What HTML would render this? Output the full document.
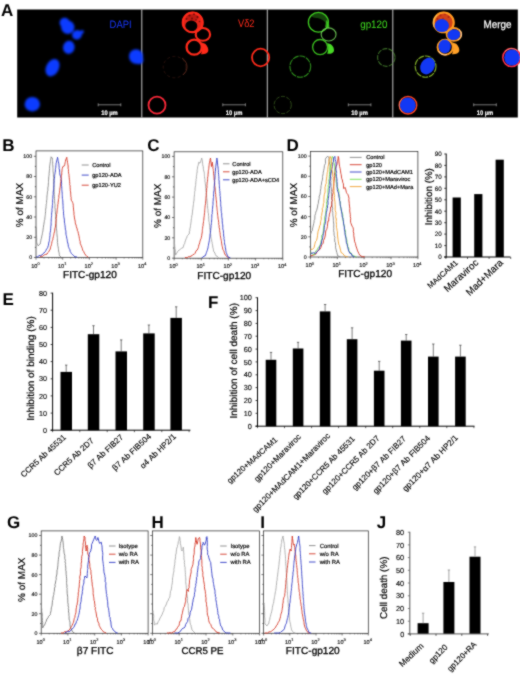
<!DOCTYPE html>
<html><head><meta charset="utf-8"><title>Figure</title>
<style>html,body{margin:0;padding:0;background:#fff;}body{width:520px;height:676px;overflow:hidden;font-family:"Liberation Sans",sans-serif;}svg{display:block;}</style>
</head><body>
<svg width="520" height="676" viewBox="0 0 520 676" text-rendering="geometricPrecision">
<defs><filter id="b1" color-interpolation-filters="sRGB" x="-20%" y="-20%" width="140%" height="140%"><feGaussianBlur stdDeviation="0.9"/></filter><filter id="b2" color-interpolation-filters="sRGB" x="-20%" y="-20%" width="140%" height="140%"><feGaussianBlur stdDeviation="0.8"/></filter><filter id="b3" color-interpolation-filters="sRGB" x="-5%" y="-5%" width="110%" height="110%"><feGaussianBlur stdDeviation="0.3"/></filter><filter id="ball" color-interpolation-filters="sRGB" x="0" y="0" width="100%" height="100%" filterUnits="userSpaceOnUse"><feConvolveMatrix order="3" kernelMatrix="1 2 1 2 12 2 1 2 1" divisor="24" edgeMode="duplicate" preserveAlpha="true"/></filter></defs>
<rect width="520" height="676" fill="#fff"/>
<g filter="url(#ball)">
<rect width="520" height="676" fill="#fff"/>
<text x="1.0" y="15.8" font-size="17" text-anchor="start" font-weight="bold" fill="#000" font-family="Liberation Sans, sans-serif">A</text>
<text x="2.2" y="151.0" font-size="17" text-anchor="start" font-weight="bold" fill="#000" font-family="Liberation Sans, sans-serif">B</text>
<text x="147.3" y="151.2" font-size="17" text-anchor="start" font-weight="bold" fill="#000" font-family="Liberation Sans, sans-serif">C</text>
<text x="286.5" y="150.5" font-size="17" text-anchor="start" font-weight="bold" fill="#000" font-family="Liberation Sans, sans-serif">D</text>
<text x="2.5" y="305.2" font-size="17" text-anchor="start" font-weight="bold" fill="#000" font-family="Liberation Sans, sans-serif">E</text>
<text x="208.0" y="308.0" font-size="17" text-anchor="start" font-weight="bold" fill="#000" font-family="Liberation Sans, sans-serif">F</text>
<text x="7.0" y="528.4" font-size="17" text-anchor="start" font-weight="bold" fill="#000" font-family="Liberation Sans, sans-serif">G</text>
<text x="151.5" y="528.4" font-size="17" text-anchor="start" font-weight="bold" fill="#000" font-family="Liberation Sans, sans-serif">H</text>
<text x="260.2" y="528.3" font-size="17" text-anchor="start" font-weight="bold" fill="#000" font-family="Liberation Sans, sans-serif">I</text>
<text x="376.8" y="528.0" font-size="17" text-anchor="start" font-weight="bold" fill="#000" font-family="Liberation Sans, sans-serif">J</text>
<rect x="17.2" y="9.5" width="500.59999999999997" height="108.0" fill="#000"/>
<rect x="141.3" y="9.5" width="1" height="108.0" fill="#c8c8c8"/>
<rect x="266.8" y="9.5" width="1" height="108.0" fill="#c8c8c8"/>
<rect x="392.3" y="9.5" width="1" height="108.0" fill="#c8c8c8"/>
<g filter="url(#b1)">
<ellipse cx="67.8" cy="27.2" rx="6.6" ry="6.8" fill="#0c3cff" opacity="1" transform="rotate(0 67.8 27.2)"/>
<ellipse cx="64.6" cy="22.8" rx="5.0" ry="5.0" fill="#0c3cff" opacity="1" transform="rotate(0 64.6 22.8)"/>
<ellipse cx="77.0" cy="34.8" rx="5.0" ry="4.6" fill="#0c3cff" opacity="1" transform="rotate(-25 77.0 34.8)"/>
<ellipse cx="81.6" cy="32.2" rx="2.4" ry="1.8" fill="#0c3cff" opacity="1" transform="rotate(-30 81.6 32.2)"/>
<ellipse cx="68.8" cy="47.3" rx="5.8" ry="6.6" fill="#0c3cff" opacity="1" transform="rotate(10 68.8 47.3)"/>
<ellipse cx="52.5" cy="67.7" rx="6.4" ry="9.2" fill="#0c3cff" opacity="1" transform="rotate(28 52.5 67.7)"/>
<ellipse cx="32.3" cy="104.2" rx="7.7" ry="7.3" fill="#0c3cff" opacity="1" transform="rotate(0 32.3 104.2)"/>
<ellipse cx="136.0" cy="56.6" rx="7.0" ry="7.4" fill="#0c3cff" opacity="1" transform="rotate(0 136.0 56.6)"/>
<ellipse cx="139.2" cy="60.0" rx="4.2" ry="4.2" fill="#0c3cff" opacity="1" transform="rotate(0 139.2 60.0)"/>
</g>
<g>
<g opacity="1">
<path fill-rule="evenodd" fill="#f0261a" opacity="0.95" d="M182,22.4 a10.7,10.6 0 1,0 21.4,0 a10.7,10.6 0 1,0 -21.4,0 Z M185.3,25.9 a6.0,5.4 0 1,0 12,0 a6.0,5.4 0 1,0 -12,0 Z"/>
<ellipse cx="192.7" cy="22.4" rx="10.0" ry="9.9" fill="none" stroke="#ff2a1a" stroke-width="2.0" opacity="1" transform="rotate(0 192.7 22.4)"/>
<ellipse cx="202.9" cy="34.4" rx="7.2" ry="6.4" fill="none" stroke="#ff2a1a" stroke-width="2.1" opacity="1" transform="rotate(0 202.9 34.4)"/>
<ellipse cx="194.2" cy="47.2" rx="7.6" ry="7.5" fill="none" stroke="#ff2a1a" stroke-width="2.3" opacity="1" transform="rotate(0 194.2 47.2)"/>
<path d="M201,42.2 L205.2,43.8 Q208.6,47 208.3,51 Q207,54.6 201,54.3 Q203.5,48 201,42.2 Z" fill="#ff2a1a"/>
</g>
<ellipse cx="192.3" cy="17.6" rx="6.2" ry="3.4" fill="#500" opacity="0.28" transform="rotate(0 192.3 17.6)"/>
<ellipse cx="189.5" cy="15.5" rx="1.1" ry="1.1" fill="#300" opacity="0.6" transform="rotate(0 189.5 15.5)"/>
<ellipse cx="194.0" cy="14.2" rx="0.9" ry="0.9" fill="#300" opacity="0.6" transform="rotate(0 194.0 14.2)"/>
<ellipse cx="197.5" cy="17.0" rx="1.0" ry="1.0" fill="#300" opacity="0.6" transform="rotate(0 197.5 17.0)"/>
<ellipse cx="186.5" cy="19.0" rx="1.0" ry="1.0" fill="#300" opacity="0.6" transform="rotate(0 186.5 19.0)"/>
<ellipse cx="192.0" cy="18.5" rx="0.9" ry="0.9" fill="#300" opacity="0.6" transform="rotate(0 192.0 18.5)"/>
<ellipse cx="196.0" cy="20.0" rx="0.8" ry="0.8" fill="#300" opacity="0.6" transform="rotate(0 196.0 20.0)"/>
<ellipse cx="199.5" cy="21.5" rx="0.8" ry="0.8" fill="#300" opacity="0.6" transform="rotate(0 199.5 21.5)"/>
<ellipse cx="174.6" cy="67.1" rx="11.4" ry="10.7" fill="none" stroke="#a04030" stroke-width="0.7" opacity="0.35" stroke-dasharray="3 2.5" transform="rotate(0 174.6 67.1)"/>
<path d="M182,58 A11.4,10.7 0 0,1 183,75" fill="none" stroke="#b05038" stroke-width="0.8" opacity="0.55"/>
<ellipse cx="157.0" cy="105.2" rx="8.5" ry="8.5" fill="none" stroke="#f82838" stroke-width="1.8" opacity="1" transform="rotate(0 157.0 105.2)"/>
<ellipse cx="260.6" cy="57.5" rx="8.6" ry="8.8" fill="none" stroke="#ff2a1a" stroke-width="1.8" opacity="1" transform="rotate(0 260.6 57.5)"/>
</g>
<g>
<g opacity="0.95">
<ellipse cx="318.4" cy="22.3" rx="10.0" ry="9.9" fill="none" stroke="#44dc24" stroke-width="1.3" opacity="1" transform="rotate(0 318.4 22.3)"/>
<path d="M310.7,16 Q317.7,10.5 325.7,15.5 Q328.7,20 328.2,26 Q323.7,19 317.7,18 Q313.7,18.5 310.7,16Z" fill="#44dc24" opacity="0.33"/>
<path d="M326.2,20 Q330.2,24 329.2,28.5 L325.2,27 Z" fill="#44dc24" opacity="0.8"/>
<ellipse cx="328.6" cy="34.4" rx="7.4" ry="6.6" fill="none" stroke="#7ae060" stroke-width="1.15" opacity="0.85" transform="rotate(0 328.6 34.4)"/>
<ellipse cx="320.1" cy="47.1" rx="7.5" ry="7.6" fill="none" stroke="#44dc24" stroke-width="1.3" opacity="0.9" transform="rotate(0 320.1 47.1)"/>
<path d="M327.2,43 L330.9,44.2 Q334.3,47 334.0,51 Q332.7,54.2 327.2,53.8 Q329.2,48 327.2,43 Z" fill="#4ce428"/>
</g>
<ellipse cx="300.3" cy="66.6" rx="10.4" ry="10.6" fill="none" stroke="#40c828" stroke-width="1.1" opacity="0.7" stroke-dasharray="6 0.9" transform="rotate(0 300.3 66.6)"/>
<ellipse cx="282.7" cy="105.0" rx="8.6" ry="8.6" fill="none" stroke="#5a9030" stroke-width="1.0" opacity="0.5" stroke-dasharray="4 1.5" transform="rotate(0 282.7 105.0)"/>
<ellipse cx="386.3" cy="57.5" rx="8.7" ry="8.9" fill="none" stroke="#60b040" stroke-width="1.1" opacity="0.6" stroke-dasharray="5 1.2" transform="rotate(0 386.3 57.5)"/>
</g>
<g>
<g opacity="1">
<path fill-rule="evenodd" fill="#e8481a" opacity="0.9" d="M433.0,22.4 a10.7,10.6 0 1,0 21.4,0 a10.7,10.6 0 1,0 -21.4,0 Z M436.3,25.9 a6.0,5.4 0 1,0 12,0 a6.0,5.4 0 1,0 -12,0 Z"/>
<ellipse cx="443.7" cy="22.4" rx="10.0" ry="9.9" fill="none" stroke="#ff9a20" stroke-width="2.1" opacity="1" transform="rotate(0 443.7 22.4)"/>
<ellipse cx="453.9" cy="34.4" rx="7.2" ry="6.4" fill="none" stroke="#ff9a20" stroke-width="1.9" opacity="1" transform="rotate(0 453.9 34.4)"/>
<ellipse cx="445.2" cy="47.2" rx="7.6" ry="7.5" fill="none" stroke="#ff9a20" stroke-width="2.0" opacity="1" transform="rotate(0 445.2 47.2)"/>
<path d="M452.0,42.2 L456.2,43.8 Q459.6,47 459.3,51 Q458.0,54.6 452.0,54.3 Q454.5,48 452.0,42.2 Z" fill="#ffa028"/>
</g>
<ellipse cx="440.5" cy="15.5" rx="1.0" ry="1.0" fill="#901010" opacity="0.6" transform="rotate(0 440.5 15.5)"/>
<ellipse cx="445.0" cy="14.2" rx="0.8" ry="0.8" fill="#901010" opacity="0.6" transform="rotate(0 445.0 14.2)"/>
<ellipse cx="448.5" cy="17.0" rx="0.9" ry="0.9" fill="#901010" opacity="0.6" transform="rotate(0 448.5 17.0)"/>
<ellipse cx="437.5" cy="19.0" rx="0.9" ry="0.9" fill="#901010" opacity="0.6" transform="rotate(0 437.5 19.0)"/>
<ellipse cx="443.0" cy="18.5" rx="0.8" ry="0.8" fill="#901010" opacity="0.6" transform="rotate(0 443.0 18.5)"/>
<path d="M434.2,27 A10,9.9 0 0,1 437.0,15" fill="none" stroke="#ffd070" stroke-width="1" opacity="0.8"/>
<path d="M459.0,29.5 A7.2,6.4 0 0,1 458.0,40" fill="none" stroke="#ffe0c0" stroke-width="1" opacity="0.8"/>
<path d="M438.5,51 A7.6,7.5 0 0,0 447.0,54.6" fill="none" stroke="#ffe0d0" stroke-width="1" opacity="0.8"/>
<ellipse cx="425.6" cy="66.6" rx="10.4" ry="10.6" fill="none" stroke="#98cc30" stroke-width="1.15" opacity="0.85" stroke-dasharray="6 0.9" transform="rotate(0 425.6 66.6)"/>
<ellipse cx="408.0" cy="105.2" rx="8.7" ry="8.7" fill="none" stroke="#ff4420" stroke-width="1.5" opacity="1" transform="rotate(0 408.0 105.2)"/>
<path d="M402.0,99 A8.6,8.6 0 0,0 402.0,111.5" fill="none" stroke="#ff9060" stroke-width="1" opacity="0.7"/>
<ellipse cx="511.6" cy="57.5" rx="8.8" ry="9.0" fill="none" stroke="#ff3048" stroke-width="1.5" opacity="1" transform="rotate(0 511.6 57.5)"/>
<path d="M505.0,51.5 A8.7,8.9 0 0,1 517.0,50.5" fill="none" stroke="#ffb080" stroke-width="0.9" opacity="0.7"/>
<ellipse cx="441.8" cy="25.6" rx="7.2" ry="6.5" fill="#1238f4" opacity="1" transform="rotate(0 441.8 25.6)"/>
<ellipse cx="453.8" cy="34.7" rx="6.5" ry="5.3" fill="#1238f4" opacity="1" transform="rotate(-15 453.8 34.7)"/>
<ellipse cx="444.7" cy="46.4" rx="6.1" ry="6.8" fill="#1238f4" opacity="1" transform="rotate(0 444.7 46.4)"/>
<ellipse cx="427.6" cy="66.0" rx="6.9" ry="8.8" fill="#1238f4" opacity="1" transform="rotate(30 427.6 66.0)"/>
<ellipse cx="407.8" cy="105.2" rx="7.9" ry="7.8" fill="#1238f4" opacity="1" transform="rotate(0 407.8 105.2)"/>
<ellipse cx="512.0" cy="57.5" rx="7.8" ry="8.0" fill="#1238f4" opacity="1" transform="rotate(0 512.0 57.5)"/>
</g>
<text x="109.6" y="27.8" font-size="10.8" text-anchor="start" font-weight="normal" fill="#1838ff" font-family="Liberation Sans, sans-serif" textLength="22" lengthAdjust="spacingAndGlyphs">DAPI</text>
<text x="238.0" y="27.3" font-size="10.8" text-anchor="start" font-weight="normal" fill="#ff2a1a" font-family="Liberation Sans, sans-serif" textLength="16.5" lengthAdjust="spacingAndGlyphs">Vδ2</text>
<text x="360.2" y="27.5" font-size="10.8" text-anchor="start" font-weight="normal" fill="#40e020" font-family="Liberation Sans, sans-serif" textLength="27.3" lengthAdjust="spacingAndGlyphs">gp120</text>
<text x="483.5" y="27.5" font-size="10.8" text-anchor="start" font-weight="normal" fill="#ffffff" font-family="Liberation Sans, sans-serif" textLength="28" lengthAdjust="spacingAndGlyphs" stroke="#fff" stroke-width="0.25">Merge</text>
<g stroke="#bbb" stroke-width="0.7" opacity="0.9"><line x1="98.2" y1="104.8" x2="120.80000000000001" y2="104.8"/><line x1="98.2" y1="103.3" x2="98.2" y2="106.3"/><line x1="120.80000000000001" y1="103.3" x2="120.80000000000001" y2="106.3"/></g>
<text x="101.2" y="115.1" font-size="6.6" text-anchor="start" font-weight="bold" fill="#fff" font-family="Liberation Sans, sans-serif" textLength="16.6" lengthAdjust="spacingAndGlyphs" stroke="#fff" stroke-width="0.2">10 µm</text>
<g stroke="#bbb" stroke-width="0.7" opacity="0.9"><line x1="222.8" y1="104.8" x2="245.4" y2="104.8"/><line x1="222.8" y1="103.3" x2="222.8" y2="106.3"/><line x1="245.4" y1="103.3" x2="245.4" y2="106.3"/></g>
<text x="225.8" y="115.1" font-size="6.6" text-anchor="start" font-weight="bold" fill="#fff" font-family="Liberation Sans, sans-serif" textLength="16.6" lengthAdjust="spacingAndGlyphs" stroke="#fff" stroke-width="0.2">10 µm</text>
<g stroke="#bbb" stroke-width="0.7" opacity="0.9"><line x1="348.3" y1="104.8" x2="370.90000000000003" y2="104.8"/><line x1="348.3" y1="103.3" x2="348.3" y2="106.3"/><line x1="370.90000000000003" y1="103.3" x2="370.90000000000003" y2="106.3"/></g>
<text x="351.3" y="115.1" font-size="6.6" text-anchor="start" font-weight="bold" fill="#fff" font-family="Liberation Sans, sans-serif" textLength="16.6" lengthAdjust="spacingAndGlyphs" stroke="#fff" stroke-width="0.2">10 µm</text>
<g stroke="#bbb" stroke-width="0.7" opacity="0.9"><line x1="473.7" y1="104.8" x2="496.3" y2="104.8"/><line x1="473.7" y1="103.3" x2="473.7" y2="106.3"/><line x1="496.3" y1="103.3" x2="496.3" y2="106.3"/></g>
<text x="476.7" y="115.1" font-size="6.6" text-anchor="start" font-weight="bold" fill="#fff" font-family="Liberation Sans, sans-serif" textLength="16.6" lengthAdjust="spacingAndGlyphs" stroke="#fff" stroke-width="0.2">10 µm</text>
<rect x="36.0" y="150.9" width="106.80000000000001" height="106.6" fill="none" stroke="#222" stroke-width="0.7"/>
<line x1="36.0" y1="257.5" x2="33.8" y2="257.5" stroke="#222" stroke-width="0.6"/>
<text x="32.2" y="259.4" font-size="5.3" text-anchor="end" font-weight="normal" fill="#111" font-family="Liberation Sans, sans-serif" stroke="#111" stroke-width="0.15">0</text>
<line x1="36.0" y1="247.4" x2="34.8" y2="247.4" stroke="#222" stroke-width="0.6"/>
<line x1="36.0" y1="237.3" x2="33.8" y2="237.3" stroke="#222" stroke-width="0.6"/>
<text x="32.2" y="239.2" font-size="5.3" text-anchor="end" font-weight="normal" fill="#111" font-family="Liberation Sans, sans-serif" stroke="#111" stroke-width="0.15">20</text>
<line x1="36.0" y1="227.1" x2="34.8" y2="227.1" stroke="#222" stroke-width="0.6"/>
<line x1="36.0" y1="217.0" x2="33.8" y2="217.0" stroke="#222" stroke-width="0.6"/>
<text x="32.2" y="218.9" font-size="5.3" text-anchor="end" font-weight="normal" fill="#111" font-family="Liberation Sans, sans-serif" stroke="#111" stroke-width="0.15">40</text>
<line x1="36.0" y1="206.9" x2="34.8" y2="206.9" stroke="#222" stroke-width="0.6"/>
<line x1="36.0" y1="196.8" x2="33.8" y2="196.8" stroke="#222" stroke-width="0.6"/>
<text x="32.2" y="198.7" font-size="5.3" text-anchor="end" font-weight="normal" fill="#111" font-family="Liberation Sans, sans-serif" stroke="#111" stroke-width="0.15">60</text>
<line x1="36.0" y1="186.7" x2="34.8" y2="186.7" stroke="#222" stroke-width="0.6"/>
<line x1="36.0" y1="176.5" x2="33.8" y2="176.5" stroke="#222" stroke-width="0.6"/>
<text x="32.2" y="178.4" font-size="5.3" text-anchor="end" font-weight="normal" fill="#111" font-family="Liberation Sans, sans-serif" stroke="#111" stroke-width="0.15">80</text>
<line x1="36.0" y1="166.4" x2="34.8" y2="166.4" stroke="#222" stroke-width="0.6"/>
<line x1="36.0" y1="156.3" x2="33.8" y2="156.3" stroke="#222" stroke-width="0.6"/>
<text x="32.2" y="158.2" font-size="5.3" text-anchor="end" font-weight="normal" fill="#111" font-family="Liberation Sans, sans-serif" stroke="#111" stroke-width="0.15">100</text>
<line x1="36.0" y1="257.5" x2="36.0" y2="259.7" stroke="#222" stroke-width="0.6"/>
<line x1="44.0" y1="257.5" x2="44.0" y2="258.7" stroke="#222" stroke-width="0.4"/>
<line x1="48.7" y1="257.5" x2="48.7" y2="258.7" stroke="#222" stroke-width="0.4"/>
<line x1="52.1" y1="257.5" x2="52.1" y2="258.7" stroke="#222" stroke-width="0.4"/>
<line x1="54.7" y1="257.5" x2="54.7" y2="258.7" stroke="#222" stroke-width="0.4"/>
<line x1="56.8" y1="257.5" x2="56.8" y2="258.7" stroke="#222" stroke-width="0.4"/>
<line x1="58.6" y1="257.5" x2="58.6" y2="258.7" stroke="#222" stroke-width="0.4"/>
<line x1="60.1" y1="257.5" x2="60.1" y2="258.7" stroke="#222" stroke-width="0.4"/>
<line x1="61.5" y1="257.5" x2="61.5" y2="258.7" stroke="#222" stroke-width="0.4"/>
<text x="35.4" y="267.7" font-size="5.6" text-anchor="middle" fill="#111" stroke="#111" stroke-width="0.15" font-family="Liberation Sans, sans-serif">10<tspan dy="-2.3" font-size="3.9">0</tspan></text>
<line x1="62.7" y1="257.5" x2="62.7" y2="259.7" stroke="#222" stroke-width="0.6"/>
<line x1="70.7" y1="257.5" x2="70.7" y2="258.7" stroke="#222" stroke-width="0.4"/>
<line x1="75.4" y1="257.5" x2="75.4" y2="258.7" stroke="#222" stroke-width="0.4"/>
<line x1="78.8" y1="257.5" x2="78.8" y2="258.7" stroke="#222" stroke-width="0.4"/>
<line x1="81.4" y1="257.5" x2="81.4" y2="258.7" stroke="#222" stroke-width="0.4"/>
<line x1="83.5" y1="257.5" x2="83.5" y2="258.7" stroke="#222" stroke-width="0.4"/>
<line x1="85.3" y1="257.5" x2="85.3" y2="258.7" stroke="#222" stroke-width="0.4"/>
<line x1="86.8" y1="257.5" x2="86.8" y2="258.7" stroke="#222" stroke-width="0.4"/>
<line x1="88.2" y1="257.5" x2="88.2" y2="258.7" stroke="#222" stroke-width="0.4"/>
<text x="62.1" y="267.7" font-size="5.6" text-anchor="middle" fill="#111" stroke="#111" stroke-width="0.15" font-family="Liberation Sans, sans-serif">10<tspan dy="-2.3" font-size="3.9">1</tspan></text>
<line x1="89.4" y1="257.5" x2="89.4" y2="259.7" stroke="#222" stroke-width="0.6"/>
<line x1="97.4" y1="257.5" x2="97.4" y2="258.7" stroke="#222" stroke-width="0.4"/>
<line x1="102.1" y1="257.5" x2="102.1" y2="258.7" stroke="#222" stroke-width="0.4"/>
<line x1="105.5" y1="257.5" x2="105.5" y2="258.7" stroke="#222" stroke-width="0.4"/>
<line x1="108.1" y1="257.5" x2="108.1" y2="258.7" stroke="#222" stroke-width="0.4"/>
<line x1="110.2" y1="257.5" x2="110.2" y2="258.7" stroke="#222" stroke-width="0.4"/>
<line x1="112.0" y1="257.5" x2="112.0" y2="258.7" stroke="#222" stroke-width="0.4"/>
<line x1="113.5" y1="257.5" x2="113.5" y2="258.7" stroke="#222" stroke-width="0.4"/>
<line x1="114.9" y1="257.5" x2="114.9" y2="258.7" stroke="#222" stroke-width="0.4"/>
<text x="88.8" y="267.7" font-size="5.6" text-anchor="middle" fill="#111" stroke="#111" stroke-width="0.15" font-family="Liberation Sans, sans-serif">10<tspan dy="-2.3" font-size="3.9">2</tspan></text>
<line x1="116.1" y1="257.5" x2="116.1" y2="259.7" stroke="#222" stroke-width="0.6"/>
<line x1="124.1" y1="257.5" x2="124.1" y2="258.7" stroke="#222" stroke-width="0.4"/>
<line x1="128.8" y1="257.5" x2="128.8" y2="258.7" stroke="#222" stroke-width="0.4"/>
<line x1="132.2" y1="257.5" x2="132.2" y2="258.7" stroke="#222" stroke-width="0.4"/>
<line x1="134.8" y1="257.5" x2="134.8" y2="258.7" stroke="#222" stroke-width="0.4"/>
<line x1="136.9" y1="257.5" x2="136.9" y2="258.7" stroke="#222" stroke-width="0.4"/>
<line x1="138.7" y1="257.5" x2="138.7" y2="258.7" stroke="#222" stroke-width="0.4"/>
<line x1="140.2" y1="257.5" x2="140.2" y2="258.7" stroke="#222" stroke-width="0.4"/>
<line x1="141.6" y1="257.5" x2="141.6" y2="258.7" stroke="#222" stroke-width="0.4"/>
<text x="115.5" y="267.7" font-size="5.6" text-anchor="middle" fill="#111" stroke="#111" stroke-width="0.15" font-family="Liberation Sans, sans-serif">10<tspan dy="-2.3" font-size="3.9">3</tspan></text>
<line x1="142.8" y1="257.5" x2="142.8" y2="259.7" stroke="#222" stroke-width="0.6"/>
<text x="142.2" y="267.7" font-size="5.6" text-anchor="middle" fill="#111" stroke="#111" stroke-width="0.15" font-family="Liberation Sans, sans-serif">10<tspan dy="-2.3" font-size="3.9">4</tspan></text>
<text x="23.0" y="205.0" font-size="10" text-anchor="middle" font-weight="normal" fill="#000" font-family="Liberation Sans, sans-serif" transform="rotate(-90 23.0 205.0)" stroke="#000" stroke-width="0.15">% of MAX</text>
<text x="89.9" y="277.8" font-size="10.1" text-anchor="middle" font-weight="normal" fill="#000" font-family="Liberation Sans, sans-serif" stroke="#000" stroke-width="0.3">FITC-gp120</text>
<line x1="81.7" y1="165.0" x2="88.7" y2="165.0" stroke="#868686" stroke-width="0.9"/>
<text x="92.2" y="167.0" font-size="5.7" text-anchor="start" font-weight="normal" fill="#000" font-family="Liberation Sans, sans-serif" stroke="#000" stroke-width="0.18">Control</text>
<line x1="81.7" y1="175.1" x2="88.7" y2="175.1" stroke="#2c38c4" stroke-width="0.9"/>
<text x="92.2" y="177.1" font-size="5.7" text-anchor="start" font-weight="normal" fill="#000" font-family="Liberation Sans, sans-serif" stroke="#000" stroke-width="0.18">gp120-ADA</text>
<line x1="81.7" y1="185.2" x2="88.7" y2="185.2" stroke="#d23424" stroke-width="0.9"/>
<text x="92.2" y="187.2" font-size="5.7" text-anchor="start" font-weight="normal" fill="#000" font-family="Liberation Sans, sans-serif" stroke="#000" stroke-width="0.18">gp120-YU2</text>
<polyline points="36.2,227.3 36.2,228.4 36.2,229.9 36.3,231.1 36.4,231.9 36.4,233.2 36.4,234.5 36.6,236.0 36.5,237.0 36.7,238.8 36.6,240.0 36.6,241.6 36.7,242.4 37.1,243.9 37.5,244.4 38.1,245.8 39.2,244.8 40.1,244.1 40.4,242.7 40.6,241.9 40.8,240.6 41.1,239.0 41.4,238.4 41.7,236.9 41.8,235.8 42.2,234.9 42.4,233.3 42.6,232.3 42.9,231.1 43.0,230.1 43.1,229.1 43.4,227.4 43.5,226.0 43.8,224.7 43.9,224.1 44.0,223.0 44.3,221.7 44.4,220.3 44.8,219.4 44.9,217.8 45.1,216.3 45.2,215.5 45.4,214.4 45.4,213.3 45.6,211.7 45.6,210.2 45.7,209.1 46.0,207.8 46.0,206.7 46.2,205.7 46.2,204.2 46.5,203.5 46.6,202.5 46.6,200.8 46.8,199.7 46.9,198.6 46.9,197.8 47.0,195.9 47.2,194.7 47.3,193.9 47.4,192.1 47.6,191.2 47.8,190.6 47.9,189.0 47.8,187.9 48.1,186.9 48.3,185.7 48.3,184.0 48.5,182.6 48.5,181.7 48.5,180.1 48.7,179.1 48.7,178.0 48.8,176.5 49.0,175.3 49.2,174.1 49.1,173.4 49.3,171.9 49.3,170.8 49.6,170.0 49.6,168.4 49.6,166.9 49.7,165.9 49.9,164.9 50.0,163.8 50.4,161.7 50.4,160.8 50.6,159.5 51.0,158.1 51.1,156.8 52.3,158.1 52.4,159.7 52.4,160.4 52.6,161.6 52.7,163.2 52.6,164.3 52.9,166.0 52.9,167.3 53.0,168.5 53.0,169.3 53.0,170.6 53.1,171.6 53.3,173.3 53.4,174.3 53.4,176.1 53.6,177.3 53.5,178.5 53.5,179.1 53.5,180.2 53.8,181.8 53.7,183.2 53.9,184.3 53.9,185.0 54.0,186.9 53.9,188.0 54.1,188.7 54.1,190.0 54.1,191.8 54.3,192.5 54.1,194.0 54.2,194.6 54.4,196.5 54.5,197.1 54.5,198.6 54.6,200.2 54.6,200.9 54.6,201.9 54.8,203.8 55.0,204.6 55.0,205.8 54.9,207.3 55.0,208.0 55.2,209.2 55.2,210.4 55.4,211.5 55.4,212.9 55.6,214.3 55.7,215.4 55.7,216.7 55.6,217.9 55.7,219.0 56.0,219.8 56.0,221.2 56.1,222.9 56.1,223.9 56.2,224.9 56.4,226.4 56.4,227.2 56.5,228.5 56.6,230.2 56.8,231.2 56.8,232.8 56.9,233.7 57.0,234.9 57.1,236.0 57.3,237.3 57.4,238.7 57.3,240.1 57.6,241.0 57.4,242.5 57.6,243.0 57.7,244.2 57.8,245.8 58.1,246.7 58.4,248.6 58.5,249.3 58.6,251.0 59.0,252.5 59.2,253.1 59.3,254.6 59.5,255.9 61.2,257.2" fill="none" stroke="#868686" stroke-width="0.9" stroke-linejoin="round" opacity="1"/>
<polyline points="36.2,256.8 37.7,256.8 39.0,255.6 40.4,255.5 41.8,255.1 42.9,253.7 43.9,253.0 45.2,251.7 45.8,250.7 46.4,249.2 47.1,248.7 47.7,247.5 48.2,245.8 48.5,245.1 48.7,243.1 49.1,241.7 49.4,240.7 49.4,239.3 49.7,238.3 49.7,237.4 50.0,235.6 50.0,234.8 50.0,233.2 50.2,232.5 50.5,230.7 50.6,230.0 50.7,228.3 50.8,227.1 50.8,226.3 51.1,225.1 51.1,223.9 51.1,222.5 51.2,221.5 51.2,219.9 51.3,218.7 51.4,217.7 51.5,216.9 51.6,215.5 51.6,214.1 51.7,212.8 51.9,212.0 52.0,210.4 51.9,209.8 52.1,208.5 52.3,207.0 52.3,205.7 52.5,204.8 52.5,203.3 52.6,202.4 52.6,200.9 52.6,199.4 52.8,198.6 52.9,196.9 52.9,195.8 53.2,194.4 53.2,193.9 53.2,192.1 53.4,190.8 53.5,189.4 53.7,188.3 53.7,187.6 53.9,185.7 53.9,184.5 54.0,183.0 54.1,182.1 54.2,180.6 54.3,179.2 54.5,178.4 54.6,176.7 54.6,175.4 54.8,174.4 55.0,173.4 55.2,172.3 55.4,171.0 55.4,169.4 55.5,168.7 55.8,167.2 55.9,165.3 56.0,164.8 56.1,163.2 56.5,162.2 56.7,160.5 57.0,159.6 57.3,158.7 57.5,157.3 57.8,158.5 58.0,159.8 58.1,160.6 58.4,161.7 58.7,163.2 58.9,164.1 59.0,165.9 59.2,167.2 59.1,168.4 59.5,170.0 59.6,171.0 59.6,172.5 59.8,173.9 60.0,175.0 60.5,176.3 61.2,178.4 61.2,179.8 61.5,181.0 61.4,182.0 61.6,183.2 61.6,184.7 61.5,185.8 61.7,186.6 61.8,188.4 61.8,189.5 61.9,190.2 62.0,191.8 62.2,193.2 62.2,194.5 62.3,195.6 62.3,196.8 62.4,198.4 62.7,199.7 62.7,200.1 62.9,202.1 62.8,203.0 63.0,204.0 63.0,205.3 63.1,206.4 63.1,208.4 63.3,209.5 63.4,210.8 63.6,211.5 63.4,213.0 63.6,213.8 63.7,215.5 63.8,216.7 64.0,217.7 64.3,219.1 64.4,220.1 64.4,222.1 64.7,223.4 64.8,224.7 65.0,225.5 65.2,227.3 65.3,228.0 65.3,229.2 65.7,230.3 65.9,231.7 65.9,232.9 66.0,234.4 66.3,235.7 66.6,236.8 66.8,238.4 67.1,239.3 67.3,240.8 67.4,241.8 67.8,243.0 68.1,244.2 68.2,244.9 68.4,246.7 68.8,247.5 69.2,248.6 69.9,249.7 70.2,251.5 70.8,252.4 71.3,253.4 72.4,254.6 73.5,255.3 74.7,256.8 76.1,256.8 77.2,257.2" fill="none" stroke="#2c38c4" stroke-width="0.9" stroke-linejoin="round" opacity="1"/>
<polyline points="40.1,256.8 41.2,256.3 42.5,256.3 43.4,255.5 44.5,254.8 45.6,254.5 46.9,254.2 47.5,253.0 48.3,252.3 48.9,251.4 49.6,250.1 50.2,249.2 50.5,247.8 50.8,246.3 51.1,245.9 51.5,244.3 51.7,243.4 52.0,241.6 52.4,240.5 52.8,239.8 52.9,238.5 53.4,236.5 53.6,235.7 53.8,234.8 54.0,233.4 54.4,232.0 54.7,231.2 54.7,230.1 55.0,228.1 55.3,227.3 55.5,226.0 55.6,225.1 55.8,223.6 55.9,222.2 56.1,220.5 56.3,219.4 56.2,218.5 56.4,216.8 56.6,216.0 56.6,214.3 56.9,213.4 57.0,212.1 57.1,210.8 57.2,209.7 57.4,208.2 57.6,207.6 57.7,206.3 57.8,204.5 58.1,203.9 58.1,202.1 58.4,201.0 58.4,199.7 58.7,198.6 58.9,197.5 58.8,195.9 59.1,194.8 59.2,193.8 59.5,192.7 59.5,191.2 59.7,190.4 59.8,189.1 60.1,187.3 60.3,186.1 60.4,185.1 60.4,183.8 60.6,182.3 60.9,181.5 60.9,179.7 61.2,178.5 61.1,177.2 61.3,175.9 61.6,175.3 61.8,173.9 61.7,172.8 62.0,170.9 62.0,169.9 62.3,168.5 62.9,166.5 64.6,165.7 64.8,164.4 65.1,162.8 65.4,161.5 65.7,159.8 66.3,158.5 66.8,157.3 66.9,158.9 67.1,160.2 67.4,160.9 67.5,162.6 67.7,163.2 67.9,164.9 68.2,166.0 68.1,167.0 68.2,168.8 68.5,169.6 68.4,171.1 68.5,171.7 68.7,173.7 69.0,174.7 69.0,175.6 69.2,177.3 69.3,177.9 69.3,179.2 69.6,180.1 69.6,181.7 69.8,183.3 69.7,184.6 70.0,185.2 70.2,187.1 70.1,187.8 70.3,189.1 70.3,190.8 70.6,191.9 70.7,193.1 70.7,194.2 70.8,195.2 70.9,196.8 71.2,197.5 71.1,198.8 71.3,200.3 71.9,201.0 72.6,202.4 73.0,203.6 73.3,205.3 73.2,206.1 73.4,207.2 73.5,209.1 73.6,210.0 73.8,211.6 74.0,213.1 73.9,214.3 74.2,215.5 74.3,217.0 74.5,217.9 74.7,219.3 74.9,220.0 75.2,221.2 75.3,222.8 75.5,223.9 76.1,225.1 76.3,226.4 76.8,228.0 77.2,228.9 77.4,230.7 78.0,231.6 78.3,233.3 78.5,233.9 78.9,235.7 79.1,236.6 79.4,238.5 79.6,239.7 79.9,240.8 80.2,241.5 80.2,243.3 80.6,244.1 81.0,245.3 81.4,246.1 81.8,247.2 82.3,248.4 82.6,249.9 83.1,250.9 83.7,251.5 84.3,253.1 84.9,253.9 85.6,255.1 86.9,256.4 88.2,257.2" fill="none" stroke="#d23424" stroke-width="0.9" stroke-linejoin="round" opacity="1"/>
<rect x="174.1" y="151.8" width="108.70000000000002" height="106.39999999999998" fill="none" stroke="#222" stroke-width="0.7"/>
<line x1="174.1" y1="258.2" x2="171.9" y2="258.2" stroke="#222" stroke-width="0.6"/>
<text x="170.3" y="260.1" font-size="5.3" text-anchor="end" font-weight="normal" fill="#111" font-family="Liberation Sans, sans-serif" stroke="#111" stroke-width="0.15">0</text>
<line x1="174.1" y1="248.0" x2="172.9" y2="248.0" stroke="#222" stroke-width="0.6"/>
<line x1="174.1" y1="237.8" x2="171.9" y2="237.8" stroke="#222" stroke-width="0.6"/>
<text x="170.3" y="239.7" font-size="5.3" text-anchor="end" font-weight="normal" fill="#111" font-family="Liberation Sans, sans-serif" stroke="#111" stroke-width="0.15">20</text>
<line x1="174.1" y1="227.7" x2="172.9" y2="227.7" stroke="#222" stroke-width="0.6"/>
<line x1="174.1" y1="217.5" x2="171.9" y2="217.5" stroke="#222" stroke-width="0.6"/>
<text x="170.3" y="219.4" font-size="5.3" text-anchor="end" font-weight="normal" fill="#111" font-family="Liberation Sans, sans-serif" stroke="#111" stroke-width="0.15">40</text>
<line x1="174.1" y1="207.3" x2="172.9" y2="207.3" stroke="#222" stroke-width="0.6"/>
<line x1="174.1" y1="197.1" x2="171.9" y2="197.1" stroke="#222" stroke-width="0.6"/>
<text x="170.3" y="199.0" font-size="5.3" text-anchor="end" font-weight="normal" fill="#111" font-family="Liberation Sans, sans-serif" stroke="#111" stroke-width="0.15">60</text>
<line x1="174.1" y1="186.9" x2="172.9" y2="186.9" stroke="#222" stroke-width="0.6"/>
<line x1="174.1" y1="176.8" x2="171.9" y2="176.8" stroke="#222" stroke-width="0.6"/>
<text x="170.3" y="178.7" font-size="5.3" text-anchor="end" font-weight="normal" fill="#111" font-family="Liberation Sans, sans-serif" stroke="#111" stroke-width="0.15">80</text>
<line x1="174.1" y1="166.6" x2="172.9" y2="166.6" stroke="#222" stroke-width="0.6"/>
<line x1="174.1" y1="156.4" x2="171.9" y2="156.4" stroke="#222" stroke-width="0.6"/>
<text x="170.3" y="158.3" font-size="5.3" text-anchor="end" font-weight="normal" fill="#111" font-family="Liberation Sans, sans-serif" stroke="#111" stroke-width="0.15">100</text>
<line x1="174.1" y1="258.2" x2="174.1" y2="260.4" stroke="#222" stroke-width="0.6"/>
<line x1="182.3" y1="258.2" x2="182.3" y2="259.4" stroke="#222" stroke-width="0.4"/>
<line x1="187.1" y1="258.2" x2="187.1" y2="259.4" stroke="#222" stroke-width="0.4"/>
<line x1="190.5" y1="258.2" x2="190.5" y2="259.4" stroke="#222" stroke-width="0.4"/>
<line x1="193.1" y1="258.2" x2="193.1" y2="259.4" stroke="#222" stroke-width="0.4"/>
<line x1="195.2" y1="258.2" x2="195.2" y2="259.4" stroke="#222" stroke-width="0.4"/>
<line x1="197.1" y1="258.2" x2="197.1" y2="259.4" stroke="#222" stroke-width="0.4"/>
<line x1="198.6" y1="258.2" x2="198.6" y2="259.4" stroke="#222" stroke-width="0.4"/>
<line x1="200.0" y1="258.2" x2="200.0" y2="259.4" stroke="#222" stroke-width="0.4"/>
<text x="173.5" y="268.4" font-size="5.6" text-anchor="middle" fill="#111" stroke="#111" stroke-width="0.15" font-family="Liberation Sans, sans-serif">10<tspan dy="-2.3" font-size="3.9">0</tspan></text>
<line x1="201.3" y1="258.2" x2="201.3" y2="260.4" stroke="#222" stroke-width="0.6"/>
<line x1="209.5" y1="258.2" x2="209.5" y2="259.4" stroke="#222" stroke-width="0.4"/>
<line x1="214.2" y1="258.2" x2="214.2" y2="259.4" stroke="#222" stroke-width="0.4"/>
<line x1="217.6" y1="258.2" x2="217.6" y2="259.4" stroke="#222" stroke-width="0.4"/>
<line x1="220.3" y1="258.2" x2="220.3" y2="259.4" stroke="#222" stroke-width="0.4"/>
<line x1="222.4" y1="258.2" x2="222.4" y2="259.4" stroke="#222" stroke-width="0.4"/>
<line x1="224.2" y1="258.2" x2="224.2" y2="259.4" stroke="#222" stroke-width="0.4"/>
<line x1="225.8" y1="258.2" x2="225.8" y2="259.4" stroke="#222" stroke-width="0.4"/>
<line x1="227.2" y1="258.2" x2="227.2" y2="259.4" stroke="#222" stroke-width="0.4"/>
<text x="200.7" y="268.4" font-size="5.6" text-anchor="middle" fill="#111" stroke="#111" stroke-width="0.15" font-family="Liberation Sans, sans-serif">10<tspan dy="-2.3" font-size="3.9">1</tspan></text>
<line x1="228.4" y1="258.2" x2="228.4" y2="260.4" stroke="#222" stroke-width="0.6"/>
<line x1="236.6" y1="258.2" x2="236.6" y2="259.4" stroke="#222" stroke-width="0.4"/>
<line x1="241.4" y1="258.2" x2="241.4" y2="259.4" stroke="#222" stroke-width="0.4"/>
<line x1="244.8" y1="258.2" x2="244.8" y2="259.4" stroke="#222" stroke-width="0.4"/>
<line x1="247.4" y1="258.2" x2="247.4" y2="259.4" stroke="#222" stroke-width="0.4"/>
<line x1="249.6" y1="258.2" x2="249.6" y2="259.4" stroke="#222" stroke-width="0.4"/>
<line x1="251.4" y1="258.2" x2="251.4" y2="259.4" stroke="#222" stroke-width="0.4"/>
<line x1="253.0" y1="258.2" x2="253.0" y2="259.4" stroke="#222" stroke-width="0.4"/>
<line x1="254.4" y1="258.2" x2="254.4" y2="259.4" stroke="#222" stroke-width="0.4"/>
<text x="227.8" y="268.4" font-size="5.6" text-anchor="middle" fill="#111" stroke="#111" stroke-width="0.15" font-family="Liberation Sans, sans-serif">10<tspan dy="-2.3" font-size="3.9">2</tspan></text>
<line x1="255.6" y1="258.2" x2="255.6" y2="260.4" stroke="#222" stroke-width="0.6"/>
<line x1="263.8" y1="258.2" x2="263.8" y2="259.4" stroke="#222" stroke-width="0.4"/>
<line x1="268.6" y1="258.2" x2="268.6" y2="259.4" stroke="#222" stroke-width="0.4"/>
<line x1="272.0" y1="258.2" x2="272.0" y2="259.4" stroke="#222" stroke-width="0.4"/>
<line x1="274.6" y1="258.2" x2="274.6" y2="259.4" stroke="#222" stroke-width="0.4"/>
<line x1="276.8" y1="258.2" x2="276.8" y2="259.4" stroke="#222" stroke-width="0.4"/>
<line x1="278.6" y1="258.2" x2="278.6" y2="259.4" stroke="#222" stroke-width="0.4"/>
<line x1="280.2" y1="258.2" x2="280.2" y2="259.4" stroke="#222" stroke-width="0.4"/>
<line x1="281.6" y1="258.2" x2="281.6" y2="259.4" stroke="#222" stroke-width="0.4"/>
<text x="255.0" y="268.4" font-size="5.6" text-anchor="middle" fill="#111" stroke="#111" stroke-width="0.15" font-family="Liberation Sans, sans-serif">10<tspan dy="-2.3" font-size="3.9">3</tspan></text>
<line x1="282.8" y1="258.2" x2="282.8" y2="260.4" stroke="#222" stroke-width="0.6"/>
<text x="282.2" y="268.4" font-size="5.6" text-anchor="middle" fill="#111" stroke="#111" stroke-width="0.15" font-family="Liberation Sans, sans-serif">10<tspan dy="-2.3" font-size="3.9">4</tspan></text>
<text x="161.1" y="205.8" font-size="10" text-anchor="middle" font-weight="normal" fill="#000" font-family="Liberation Sans, sans-serif" transform="rotate(-90 161.1 205.8)" stroke="#000" stroke-width="0.15">% of MAX</text>
<text x="224.2" y="278.5" font-size="10.1" text-anchor="middle" font-weight="normal" fill="#000" font-family="Liberation Sans, sans-serif" stroke="#000" stroke-width="0.3">FITC-gp120</text>
<line x1="223" y1="163.8" x2="229.5" y2="163.8" stroke="#868686" stroke-width="0.9"/>
<text x="232.3" y="165.8" font-size="5.7" text-anchor="start" font-weight="normal" fill="#000" font-family="Liberation Sans, sans-serif" stroke="#000" stroke-width="0.18">Control</text>
<line x1="223" y1="171.8" x2="229.5" y2="171.8" stroke="#d23424" stroke-width="0.9"/>
<text x="232.3" y="173.8" font-size="5.7" text-anchor="start" font-weight="normal" fill="#000" font-family="Liberation Sans, sans-serif" stroke="#000" stroke-width="0.18">gp120-ADA</text>
<line x1="223" y1="179.8" x2="229.5" y2="179.8" stroke="#2c38c4" stroke-width="0.9"/>
<text x="232.3" y="181.8" font-size="5.7" text-anchor="start" font-weight="normal" fill="#000" font-family="Liberation Sans, sans-serif" stroke="#000" stroke-width="0.18">gp120-ADA+sCD4</text>
<polyline points="174.4,242.4 174.4,243.3 174.7,244.9 174.7,246.4 174.9,247.2 174.9,248.7 175.2,249.9 175.3,251.1 175.3,252.4 175.6,254.1 175.6,255.1 176.1,253.9 176.8,253.2 177.6,251.5 178.1,250.9 179.3,250.0 180.5,249.1 181.5,248.3 183.2,247.5 183.5,246.2 184.0,244.5 184.6,243.8 184.9,242.4 185.3,240.9 185.7,240.1 186.1,238.7 186.7,238.0 187.0,236.5 187.4,235.7 189.1,234.0 189.4,233.0 189.4,231.2 189.8,230.6 189.8,228.9 190.1,228.1 190.4,226.8 190.5,225.4 190.8,223.9 190.9,222.8 191.2,221.2 191.2,220.2 191.5,218.4 191.7,217.3 191.8,215.7 192.2,214.9 192.3,213.0 192.5,212.1 192.5,211.1 192.7,209.9 192.9,208.5 193.0,207.3 193.2,205.9 193.4,204.7 193.5,203.4 193.7,201.8 193.8,201.0 194.1,200.1 194.1,198.6 194.2,197.3 194.3,196.2 194.5,194.6 194.6,193.4 194.6,192.6 194.7,191.5 195.1,190.4 195.0,189.0 195.2,187.8 195.2,187.0 195.6,185.7 195.7,184.3 195.8,182.7 195.8,181.7 196.1,180.5 196.0,179.6 196.4,178.3 196.4,176.4 196.5,175.8 196.7,174.7 196.8,173.4 197.2,171.9 197.1,170.4 197.3,169.5 197.5,168.2 197.7,166.6 198.1,165.6 198.3,164.9 198.5,163.2 198.7,162.3 200.0,163.2 200.5,161.6 200.8,160.8 201.3,159.7 201.7,158.1 202.0,159.5 202.3,160.3 202.3,162.0 202.6,163.2 202.7,164.7 203.0,166.1 203.3,166.8 203.3,168.2 203.5,169.7 203.8,171.1 204.2,172.2 204.3,173.3 204.4,174.6 204.4,175.5 204.5,176.5 204.7,178.2 205.0,179.3 204.9,180.2 205.0,181.9 205.2,182.5 205.3,183.8 205.5,185.1 205.5,186.6 205.7,187.9 205.9,188.6 205.9,190.2 206.0,191.1 206.2,192.2 206.4,194.1 206.4,194.9 206.6,195.7 206.6,197.4 206.8,198.7 207.0,200.2 207.1,200.8 207.2,201.8 207.2,203.3 207.5,204.2 207.5,205.4 207.6,207.0 207.7,208.6 207.9,209.2 208.0,210.6 208.0,212.1 208.2,212.9 208.5,213.8 208.5,215.7 208.7,216.2 208.7,218.1 208.8,219.3 208.8,220.0 208.9,221.2 209.3,222.5 209.3,223.9 209.6,225.3 209.6,226.5 209.8,227.6 209.9,229.1 210.1,229.8 210.2,231.7 210.3,232.8 210.5,233.5 210.8,235.1 210.8,236.4 211.0,237.4 211.2,238.9 211.6,239.6 211.7,241.2 212.1,242.4 212.2,243.5 212.5,244.9 212.7,245.9 212.8,247.3 213.1,248.2 213.4,249.3 213.5,250.9 214.0,251.8 214.9,253.0 215.3,254.5 216.1,255.9 217.2,256.3 218.6,257.6" fill="none" stroke="#a4a4a4" stroke-width="0.9" stroke-linejoin="round" opacity="1"/>
<polyline points="184.9,257.6 186.2,257.6 187.5,257.4 188.7,256.6 189.9,256.8 191.0,256.0 192.1,255.7 193.1,254.4 194.1,254.4 195.0,253.4 195.6,251.9 196.2,250.7 197.1,250.2 197.8,248.8 198.4,247.5 198.6,246.4 198.9,244.8 199.3,244.2 199.7,242.6 200.0,241.2 200.4,240.2 200.7,239.1 201.1,238.5 201.4,237.2 201.7,235.7 201.9,234.0 202.1,233.1 202.3,231.8 202.3,230.7 202.4,229.7 202.6,228.4 202.8,226.4 203.1,225.8 203.1,223.9 203.4,223.0 203.5,221.5 203.7,220.4 203.9,219.0 203.9,217.8 204.1,216.9 204.3,215.5 204.4,213.9 204.6,212.7 204.7,212.0 204.7,210.8 204.8,209.3 204.9,208.6 205.0,207.4 205.2,205.6 205.3,205.0 205.6,203.3 205.6,202.0 205.8,201.0 205.9,200.0 205.9,198.6 206.0,197.2 206.2,195.8 206.3,194.9 206.3,193.2 206.5,192.5 206.6,190.7 206.6,190.1 206.7,188.2 207.0,187.4 206.9,185.6 207.1,184.5 207.1,183.4 207.2,182.0 207.5,181.3 207.6,179.3 207.6,178.4 207.7,176.7 208.0,176.3 208.0,174.8 208.2,173.0 208.3,171.7 208.3,170.7 208.7,169.4 208.8,168.4 208.9,167.1 209.1,165.4 209.2,164.4 209.3,163.2 209.6,162.3 210.0,160.7 210.1,159.3 210.5,158.1 210.7,159.5 210.8,160.8 211.0,162.0 211.1,163.1 211.3,164.0 211.3,165.0 211.5,166.5 211.8,165.4 212.0,163.9 212.4,162.3 212.5,163.5 212.6,164.9 212.9,166.1 212.9,166.9 213.0,168.7 213.3,169.6 213.3,170.4 213.5,171.8 213.5,173.3 213.7,174.9 213.8,175.3 214.0,176.9 214.1,178.1 214.1,179.6 214.4,180.4 214.4,181.5 214.6,182.8 214.7,183.8 214.6,185.2 214.8,186.3 215.0,187.3 215.2,188.9 215.2,190.2 215.3,191.2 215.5,192.3 215.6,194.2 215.8,194.7 215.7,196.1 216.0,197.1 216.1,198.9 216.2,199.8 216.4,200.8 216.5,202.1 216.6,203.7 216.6,204.6 216.7,205.9 216.9,207.3 217.0,208.5 217.1,209.3 217.2,210.6 217.4,211.4 217.4,212.8 217.6,214.1 217.7,215.5 217.9,216.7 218.0,218.1 218.3,219.6 218.5,220.1 218.6,222.1 218.8,222.7 218.7,224.4 219.1,225.1 219.1,227.0 219.2,227.7 219.6,229.1 219.6,230.5 219.9,232.3 220.1,232.9 220.2,234.5 220.3,235.7 220.6,237.1 220.8,238.4 221.0,239.1 221.3,240.6 221.5,241.8 221.6,243.1 221.8,244.0 222.0,245.5 222.3,246.7 222.6,247.9 222.8,249.2 223.4,250.4 223.9,251.1 224.3,252.7 224.9,254.1 225.3,255.1 226.4,255.8 227.5,257.2 228.7,257.6" fill="none" stroke="#d23424" stroke-width="0.9" stroke-linejoin="round" opacity="1"/>
<polyline points="201.7,257.6 202.9,257.2 204.0,256.1 205.1,255.9 205.6,255.0 206.1,253.5 206.4,252.6 206.7,251.8 207.2,250.5 207.6,249.2 208.0,247.8 208.1,246.7 208.4,245.6 208.6,244.1 208.8,243.1 209.0,242.2 209.3,240.7 209.4,239.8 209.6,238.3 209.9,237.1 210.0,236.0 210.0,234.5 210.3,233.2 210.5,232.3 210.6,230.5 210.7,230.1 210.8,228.1 211.0,227.3 211.0,225.5 211.2,225.1 211.4,223.6 211.5,222.6 211.6,221.0 211.7,219.8 211.7,218.6 211.8,217.3 211.8,216.1 211.9,214.3 212.3,213.6 212.2,212.2 212.4,211.1 212.4,209.6 212.6,208.1 212.7,207.0 212.8,205.6 213.0,204.7 213.0,203.0 213.0,201.7 213.2,201.2 213.2,200.1 213.3,198.1 213.6,197.4 213.5,196.5 213.5,194.8 213.6,193.8 213.7,192.1 214.0,190.7 214.1,189.6 214.2,188.4 214.1,187.2 214.2,186.5 214.4,185.1 214.4,184.1 214.6,182.2 214.7,181.6 214.6,180.4 214.9,179.0 215.0,177.6 215.1,176.2 215.0,175.4 215.2,173.5 215.2,173.0 215.4,171.3 215.6,170.0 215.4,169.0 215.7,167.7 215.7,166.5 215.9,165.3 216.1,163.8 216.3,162.8 216.4,161.8 216.6,160.4 216.8,159.7 216.9,158.1 217.0,159.4 217.3,160.3 217.4,162.1 217.5,163.0 217.7,164.9 217.7,165.8 218.0,166.9 218.1,168.2 218.2,169.4 218.4,170.8 218.3,172.2 218.4,172.7 218.6,174.3 218.7,175.9 218.8,176.5 218.9,178.4 218.8,179.4 219.1,180.9 219.2,182.0 219.1,182.9 219.3,184.4 219.4,185.3 219.4,186.8 219.5,188.4 219.7,189.3 219.6,190.4 219.9,191.4 219.9,193.1 220.1,193.7 220.0,195.6 220.3,196.6 220.3,198.1 220.4,198.9 220.4,199.9 220.6,201.1 220.7,202.5 220.7,203.7 220.7,204.7 220.9,206.7 221.1,207.1 221.1,208.7 221.1,210.2 221.3,211.3 221.3,212.4 221.7,213.2 221.7,215.2 221.7,216.2 221.9,217.6 222.1,219.0 222.3,220.1 222.1,220.9 222.3,222.0 222.3,223.2 222.7,224.8 222.8,226.0 222.8,227.3 222.8,228.9 223.1,229.9 223.4,230.7 223.4,232.1 223.6,233.7 223.6,235.0 223.7,236.1 224.1,237.8 223.9,238.4 224.2,239.7 224.5,241.5 224.5,242.4 224.6,244.0 225.0,245.2 225.3,246.4 225.2,247.1 225.7,249.0 225.7,250.2 226.0,251.4 226.2,252.6 226.7,253.6 227.2,255.1 227.9,256.8 229.0,257.3 230.4,257.9" fill="none" stroke="#2c38c4" stroke-width="0.9" stroke-linejoin="round" opacity="1"/>
<rect x="310.4" y="151.5" width="107.5" height="105.5" fill="none" stroke="#222" stroke-width="0.7"/>
<line x1="310.4" y1="257.0" x2="308.2" y2="257.0" stroke="#222" stroke-width="0.6"/>
<text x="306.6" y="258.9" font-size="5.3" text-anchor="end" font-weight="normal" fill="#111" font-family="Liberation Sans, sans-serif" stroke="#111" stroke-width="0.15">0</text>
<line x1="310.4" y1="246.9" x2="309.2" y2="246.9" stroke="#222" stroke-width="0.6"/>
<line x1="310.4" y1="236.8" x2="308.2" y2="236.8" stroke="#222" stroke-width="0.6"/>
<text x="306.6" y="238.7" font-size="5.3" text-anchor="end" font-weight="normal" fill="#111" font-family="Liberation Sans, sans-serif" stroke="#111" stroke-width="0.15">20</text>
<line x1="310.4" y1="226.7" x2="309.2" y2="226.7" stroke="#222" stroke-width="0.6"/>
<line x1="310.4" y1="216.6" x2="308.2" y2="216.6" stroke="#222" stroke-width="0.6"/>
<text x="306.6" y="218.5" font-size="5.3" text-anchor="end" font-weight="normal" fill="#111" font-family="Liberation Sans, sans-serif" stroke="#111" stroke-width="0.15">40</text>
<line x1="310.4" y1="206.6" x2="309.2" y2="206.6" stroke="#222" stroke-width="0.6"/>
<line x1="310.4" y1="196.5" x2="308.2" y2="196.5" stroke="#222" stroke-width="0.6"/>
<text x="306.6" y="198.4" font-size="5.3" text-anchor="end" font-weight="normal" fill="#111" font-family="Liberation Sans, sans-serif" stroke="#111" stroke-width="0.15">60</text>
<line x1="310.4" y1="186.4" x2="309.2" y2="186.4" stroke="#222" stroke-width="0.6"/>
<line x1="310.4" y1="176.3" x2="308.2" y2="176.3" stroke="#222" stroke-width="0.6"/>
<text x="306.6" y="178.2" font-size="5.3" text-anchor="end" font-weight="normal" fill="#111" font-family="Liberation Sans, sans-serif" stroke="#111" stroke-width="0.15">80</text>
<line x1="310.4" y1="166.2" x2="309.2" y2="166.2" stroke="#222" stroke-width="0.6"/>
<line x1="310.4" y1="156.1" x2="308.2" y2="156.1" stroke="#222" stroke-width="0.6"/>
<text x="306.6" y="158.0" font-size="5.3" text-anchor="end" font-weight="normal" fill="#111" font-family="Liberation Sans, sans-serif" stroke="#111" stroke-width="0.15">100</text>
<line x1="310.4" y1="257" x2="310.4" y2="259.2" stroke="#222" stroke-width="0.6"/>
<line x1="318.5" y1="257" x2="318.5" y2="258.2" stroke="#222" stroke-width="0.4"/>
<line x1="323.2" y1="257" x2="323.2" y2="258.2" stroke="#222" stroke-width="0.4"/>
<line x1="326.6" y1="257" x2="326.6" y2="258.2" stroke="#222" stroke-width="0.4"/>
<line x1="329.2" y1="257" x2="329.2" y2="258.2" stroke="#222" stroke-width="0.4"/>
<line x1="331.3" y1="257" x2="331.3" y2="258.2" stroke="#222" stroke-width="0.4"/>
<line x1="333.1" y1="257" x2="333.1" y2="258.2" stroke="#222" stroke-width="0.4"/>
<line x1="334.7" y1="257" x2="334.7" y2="258.2" stroke="#222" stroke-width="0.4"/>
<line x1="336.0" y1="257" x2="336.0" y2="258.2" stroke="#222" stroke-width="0.4"/>
<text x="309.8" y="267.2" font-size="5.6" text-anchor="middle" fill="#111" stroke="#111" stroke-width="0.15" font-family="Liberation Sans, sans-serif">10<tspan dy="-2.3" font-size="3.9">0</tspan></text>
<line x1="337.3" y1="257" x2="337.3" y2="259.2" stroke="#222" stroke-width="0.6"/>
<line x1="345.4" y1="257" x2="345.4" y2="258.2" stroke="#222" stroke-width="0.4"/>
<line x1="350.1" y1="257" x2="350.1" y2="258.2" stroke="#222" stroke-width="0.4"/>
<line x1="353.5" y1="257" x2="353.5" y2="258.2" stroke="#222" stroke-width="0.4"/>
<line x1="356.1" y1="257" x2="356.1" y2="258.2" stroke="#222" stroke-width="0.4"/>
<line x1="358.2" y1="257" x2="358.2" y2="258.2" stroke="#222" stroke-width="0.4"/>
<line x1="360.0" y1="257" x2="360.0" y2="258.2" stroke="#222" stroke-width="0.4"/>
<line x1="361.5" y1="257" x2="361.5" y2="258.2" stroke="#222" stroke-width="0.4"/>
<line x1="362.9" y1="257" x2="362.9" y2="258.2" stroke="#222" stroke-width="0.4"/>
<text x="336.7" y="267.2" font-size="5.6" text-anchor="middle" fill="#111" stroke="#111" stroke-width="0.15" font-family="Liberation Sans, sans-serif">10<tspan dy="-2.3" font-size="3.9">1</tspan></text>
<line x1="364.1" y1="257" x2="364.1" y2="259.2" stroke="#222" stroke-width="0.6"/>
<line x1="372.2" y1="257" x2="372.2" y2="258.2" stroke="#222" stroke-width="0.4"/>
<line x1="377.0" y1="257" x2="377.0" y2="258.2" stroke="#222" stroke-width="0.4"/>
<line x1="380.3" y1="257" x2="380.3" y2="258.2" stroke="#222" stroke-width="0.4"/>
<line x1="382.9" y1="257" x2="382.9" y2="258.2" stroke="#222" stroke-width="0.4"/>
<line x1="385.1" y1="257" x2="385.1" y2="258.2" stroke="#222" stroke-width="0.4"/>
<line x1="386.9" y1="257" x2="386.9" y2="258.2" stroke="#222" stroke-width="0.4"/>
<line x1="388.4" y1="257" x2="388.4" y2="258.2" stroke="#222" stroke-width="0.4"/>
<line x1="389.8" y1="257" x2="389.8" y2="258.2" stroke="#222" stroke-width="0.4"/>
<text x="363.5" y="267.2" font-size="5.6" text-anchor="middle" fill="#111" stroke="#111" stroke-width="0.15" font-family="Liberation Sans, sans-serif">10<tspan dy="-2.3" font-size="3.9">2</tspan></text>
<line x1="391.0" y1="257" x2="391.0" y2="259.2" stroke="#222" stroke-width="0.6"/>
<line x1="399.1" y1="257" x2="399.1" y2="258.2" stroke="#222" stroke-width="0.4"/>
<line x1="403.8" y1="257" x2="403.8" y2="258.2" stroke="#222" stroke-width="0.4"/>
<line x1="407.2" y1="257" x2="407.2" y2="258.2" stroke="#222" stroke-width="0.4"/>
<line x1="409.8" y1="257" x2="409.8" y2="258.2" stroke="#222" stroke-width="0.4"/>
<line x1="411.9" y1="257" x2="411.9" y2="258.2" stroke="#222" stroke-width="0.4"/>
<line x1="413.7" y1="257" x2="413.7" y2="258.2" stroke="#222" stroke-width="0.4"/>
<line x1="415.3" y1="257" x2="415.3" y2="258.2" stroke="#222" stroke-width="0.4"/>
<line x1="416.7" y1="257" x2="416.7" y2="258.2" stroke="#222" stroke-width="0.4"/>
<text x="390.4" y="267.2" font-size="5.6" text-anchor="middle" fill="#111" stroke="#111" stroke-width="0.15" font-family="Liberation Sans, sans-serif">10<tspan dy="-2.3" font-size="3.9">3</tspan></text>
<line x1="417.9" y1="257" x2="417.9" y2="259.2" stroke="#222" stroke-width="0.6"/>
<text x="417.3" y="267.2" font-size="5.6" text-anchor="middle" fill="#111" stroke="#111" stroke-width="0.15" font-family="Liberation Sans, sans-serif">10<tspan dy="-2.3" font-size="3.9">4</tspan></text>
<text x="297.4" y="205.1" font-size="10" text-anchor="middle" font-weight="normal" fill="#000" font-family="Liberation Sans, sans-serif" transform="rotate(-90 297.4 205.1)" stroke="#000" stroke-width="0.15">% of MAX</text>
<text x="365.1" y="277.3" font-size="10.1" text-anchor="middle" font-weight="normal" fill="#000" font-family="Liberation Sans, sans-serif" stroke="#000" stroke-width="0.3">FITC-gp120</text>
<line x1="349.8" y1="157.4" x2="361.6" y2="157.4" stroke="#868686" stroke-width="0.9"/>
<text x="366.2" y="159.4" font-size="5.7" text-anchor="start" font-weight="normal" fill="#000" font-family="Liberation Sans, sans-serif" stroke="#000" stroke-width="0.18">Control</text>
<line x1="349.8" y1="164.70000000000002" x2="361.6" y2="164.70000000000002" stroke="#d23424" stroke-width="0.9"/>
<text x="366.2" y="166.7" font-size="5.7" text-anchor="start" font-weight="normal" fill="#000" font-family="Liberation Sans, sans-serif" stroke="#000" stroke-width="0.18">gp120</text>
<line x1="349.8" y1="172.0" x2="361.6" y2="172.0" stroke="#2c38c4" stroke-width="0.9"/>
<text x="366.2" y="174.0" font-size="5.7" text-anchor="start" font-weight="normal" fill="#000" font-family="Liberation Sans, sans-serif" stroke="#000" stroke-width="0.18">gp120+MAdCAM1</text>
<line x1="349.8" y1="179.3" x2="361.6" y2="179.3" stroke="#6fe04a" stroke-width="0.9"/>
<text x="366.2" y="181.3" font-size="5.7" text-anchor="start" font-weight="normal" fill="#000" font-family="Liberation Sans, sans-serif" stroke="#000" stroke-width="0.18">gp120+Maraviroc</text>
<line x1="349.8" y1="186.6" x2="361.6" y2="186.6" stroke="#f0a030" stroke-width="0.9"/>
<text x="366.2" y="188.6" font-size="5.7" text-anchor="start" font-weight="normal" fill="#000" font-family="Liberation Sans, sans-serif" stroke="#000" stroke-width="0.18">gp120+MAd+Mara</text>
<polyline points="310.7,234.0 311.4,231.7 312.4,230.6 312.4,229.0 312.9,227.1 313.7,223.5 314.1,221.9 314.1,220.5 314.8,219.2 314.9,215.5 315.7,213.3 315.8,212.1 316.7,210.3 317.5,207.0 317.8,204.8 318.3,203.5 318.5,201.0 319.2,198.6 319.2,196.0 319.9,195.0 320.4,191.7 320.5,190.0 320.9,188.5 321.0,185.7 321.3,185.3 321.7,181.8 322.3,180.2 322.6,177.8 322.5,176.7 323.2,173.6 323.2,172.8 323.7,170.3 324.2,168.2 324.4,165.7 325.2,163.9 325.5,163.3 325.4,159.3 325.9,158.1 327.3,156.4 329.0,157.3 329.0,160.0 329.4,161.6 329.5,164.0 330.1,164.9 330.1,167.4 330.0,167.8 330.4,171.2 330.5,171.7 330.4,175.1 330.5,176.3 331.0,177.3 330.7,180.3 331.0,181.7 330.8,182.6 331.2,185.6 331.1,186.6 331.5,189.2 331.5,191.4 331.3,191.9 331.6,194.9 331.5,196.7 331.7,198.7 332.2,200.5 331.7,201.6 332.1,204.3 332.1,206.0 332.3,207.0 332.7,208.1 332.3,210.3 332.8,212.2 332.8,213.2 332.9,215.9 333.2,217.0 333.4,220.4 333.4,221.1 333.6,223.0 333.8,224.1 333.7,227.9 333.8,228.7 333.6,230.6 334.0,232.3 334.1,235.2 334.2,235.4 334.9,237.4 334.6,238.8 334.9,242.1 335.4,242.5 335.6,245.6 335.6,247.8 336.0,249.2 336.7,252.2 336.9,252.7 337.7,255.9 340.3,256.7" fill="none" stroke="#868686" stroke-width="0.9" stroke-linejoin="round" opacity="1"/>
<polyline points="310.7,255.9 313.3,255.1 315.8,254.2 316.8,252.1 318.1,250.7 319.8,249.4 320.9,247.5 321.6,245.0 322.0,244.7 323.2,243.2 323.5,240.5 324.2,239.1 324.7,237.9 325.4,235.0 325.4,234.0 325.8,230.9 326.7,229.4 327.0,228.3 327.4,226.5 327.6,223.9 328.0,220.9 328.7,221.0 328.8,217.4 329.2,216.3 329.4,214.1 330.1,212.1 330.5,209.9 330.6,207.0 331.3,207.0 331.6,204.9 331.8,202.0 332.3,200.7 331.9,199.0 332.3,196.6 332.5,194.8 333.2,192.6 332.9,190.8 333.3,188.7 333.5,186.8 333.6,185.9 334.0,182.6 334.1,180.3 334.3,180.3 334.4,176.9 334.4,175.6 334.6,172.8 334.9,171.3 335.2,169.9 335.9,166.9 336.9,164.9 337.3,161.8 337.6,161.4 338.0,158.7 338.2,156.4 338.7,157.9 338.9,160.6 339.1,163.0 339.4,164.9 339.6,166.6 340.1,168.5 340.5,170.9 340.8,173.3 341.2,174.5 341.7,178.6 342.4,180.0 342.7,182.3 343.4,183.8 343.5,185.9 343.6,188.5 345.3,187.6 345.6,188.8 346.4,192.4 347.0,193.5 347.8,194.3 348.7,196.9 349.0,198.7 348.8,199.8 349.3,203.6 349.2,203.7 349.5,206.1 349.8,208.5 349.7,210.9 349.9,212.1 350.3,214.6 350.3,216.6 350.7,218.6 350.5,220.9 350.7,222.7 351.2,223.9 352.1,226.2 352.9,227.3 353.4,229.2 353.3,231.4 353.8,233.8 353.7,235.4 354.0,237.0 354.3,239.1 354.7,241.8 355.4,243.3 355.9,245.8 356.7,248.1 357.6,250.9 358.9,253.6 359.6,255.1 362.2,256.7 364.7,256.7" fill="none" stroke="#d23424" stroke-width="0.9" stroke-linejoin="round" opacity="1"/>
<polyline points="310.7,252.6 312.4,253.8 314.1,255.1 315.1,252.4 316.4,250.4 317.5,249.2 318.1,247.7 319.1,246.7 320.2,244.9 320.9,242.4 321.0,241.5 321.9,238.4 321.6,235.6 322.3,234.9 322.9,233.7 323.4,231.0 323.4,228.9 323.7,227.1 323.8,225.6 324.2,223.1 324.7,221.2 324.7,220.1 324.8,216.9 325.2,215.7 325.7,214.3 325.7,213.3 325.9,210.4 326.2,208.4 326.2,207.7 326.8,204.8 326.6,202.1 327.2,202.0 326.9,199.0 327.5,198.0 327.6,195.2 328.1,194.1 327.9,192.4 328.0,188.9 328.3,187.8 328.2,185.3 328.7,184.4 329.1,181.9 328.7,180.7 329.3,178.3 329.3,176.7 329.6,174.3 329.6,171.8 330.0,171.7 329.9,169.4 330.4,167.2 330.7,164.8 331.1,163.5 331.0,161.5 331.6,159.1 332.3,156.4 333.5,158.1 333.5,159.2 333.7,162.5 334.0,163.0 334.7,165.9 334.9,168.0 334.6,168.7 335.2,171.6 335.3,174.1 335.5,175.9 335.7,176.6 336.3,178.3 336.2,181.3 336.4,182.9 336.9,183.9 336.9,186.8 338.0,188.7 338.6,190.2 338.9,191.9 338.7,193.4 339.4,196.8 339.7,197.3 339.5,200.3 340.1,201.8 340.3,203.4 340.3,205.3 340.7,207.0 341.2,210.3 341.9,212.1 342.5,213.6 342.8,215.8 342.7,217.2 343.0,219.4 343.4,222.6 343.6,223.6 344.1,225.4 344.5,227.3 344.5,228.9 345.3,230.2 345.3,232.6 345.6,234.2 345.7,236.2 346.3,239.0 346.8,239.8 347.0,242.4 347.4,243.4 347.8,246.9 348.7,247.9 348.8,250.5 349.5,251.7 351.4,253.5 352.9,255.9 354.9,256.3 356.3,256.7" fill="none" stroke="#6fe04a" stroke-width="0.9" stroke-linejoin="round" opacity="1"/>
<polyline points="310.7,253.4 313.6,252.8 315.8,253.4 317.3,251.3 319.2,249.2 319.6,247.1 320.4,245.6 321.3,244.0 321.7,240.8 322.5,239.1 322.7,237.4 322.9,236.1 323.5,233.4 324.0,231.0 324.2,229.3 324.3,227.8 324.5,225.5 325.1,223.9 325.6,221.3 325.7,219.8 325.9,217.5 326.1,216.2 326.1,214.2 326.4,212.3 327.0,210.1 327.0,208.6 327.5,208.1 327.6,205.3 328.1,204.3 327.9,200.7 328.4,198.6 328.4,198.1 328.8,195.7 328.7,194.4 329.0,192.8 329.3,190.2 329.3,188.6 329.9,185.6 330.0,185.1 329.7,181.7 330.0,180.0 330.3,178.5 330.5,176.0 330.6,175.5 331.0,173.3 331.4,171.9 331.7,169.6 332.4,166.8 332.7,164.9 332.7,162.6 333.5,161.8 333.4,158.7 334.0,157.3 334.9,156.4 335.2,159.2 335.2,159.5 335.8,161.6 336.1,163.9 336.0,166.5 335.9,168.9 336.2,170.7 336.6,172.6 336.2,173.4 336.5,176.7 336.8,178.5 337.0,180.0 336.9,181.5 337.1,182.1 337.1,184.8 337.2,186.8 337.3,189.7 337.7,191.3 338.5,193.1 338.7,194.1 339.1,197.7 339.4,198.6 339.6,200.7 340.0,201.7 340.2,204.5 340.5,206.3 341.1,208.7 341.5,211.1 341.6,211.9 342.0,214.4 342.3,217.3 342.9,217.8 343.0,219.3 343.5,221.6 343.6,223.9 344.1,225.9 344.3,226.9 344.4,229.7 345.0,232.0 344.9,232.4 345.1,234.8 345.5,236.0 346.0,238.2 346.2,240.7 346.4,242.7 347.1,244.4 347.5,246.5 347.9,247.9 348.7,250.9 350.0,253.6 351.1,253.3 352.1,255.9 354.6,256.7" fill="none" stroke="#2c38c4" stroke-width="0.9" stroke-linejoin="round" opacity="1"/>
<polyline points="310.7,249.2 312.5,249.4 314.1,247.5 314.7,244.7 315.0,243.4 315.5,241.7 316.5,240.5 317.2,237.9 317.5,235.7 317.7,234.1 318.1,231.3 318.9,229.0 319.0,228.8 319.7,225.5 320.3,225.1 320.6,221.7 320.9,220.5 321.3,219.4 321.2,216.4 321.6,215.6 322.0,212.7 322.5,210.9 322.2,208.7 322.9,207.5 323.2,206.2 323.4,203.6 323.9,202.6 323.9,199.8 324.0,197.1 324.1,196.1 324.4,194.4 325.1,192.0 325.1,190.2 325.0,187.3 325.4,186.2 325.5,184.9 326.3,183.2 326.2,181.2 326.6,178.1 326.8,176.7 327.0,174.7 327.3,172.4 327.8,171.1 327.7,169.7 328.1,166.4 328.5,164.9 328.8,162.9 329.0,160.0 329.7,158.2 330.1,156.4 331.0,158.1 331.5,161.3 331.7,163.1 331.7,165.5 331.8,166.5 331.7,169.1 332.3,170.7 332.5,171.8 332.7,175.1 332.7,176.4 333.3,177.6 333.1,178.8 333.5,181.7 333.6,183.9 333.9,184.4 333.9,186.9 334.0,188.8 334.0,190.9 334.0,191.7 334.4,195.2 334.7,195.3 334.3,197.4 334.6,199.9 334.9,201.6 335.0,202.8 335.1,204.4 335.2,207.0 335.1,209.0 335.2,210.5 335.9,212.4 335.9,214.4 335.6,216.7 336.2,219.1 336.4,218.9 336.1,221.4 336.5,224.5 336.4,225.9 336.5,227.7 336.9,228.9 337.0,230.3 337.4,231.7 337.4,234.0 337.7,237.0 338.0,239.3 338.2,241.1 338.6,243.1 338.6,244.1 339.4,245.5 340.0,248.0 340.7,250.8 341.1,252.6 342.7,253.4 344.5,255.9 346.5,256.7 347.8,256.7" fill="none" stroke="#f0a030" stroke-width="0.9" stroke-linejoin="round" opacity="1"/>
<rect x="452.6" y="197.5" width="8.2" height="59.5" fill="#000"/>
<rect x="474.2" y="194.1" width="8.2" height="62.9" fill="#000"/>
<rect x="495.6" y="159.7" width="8.2" height="97.3" fill="#000"/>
<line x1="446.2" y1="153.6" x2="446.2" y2="257.5" stroke="#000" stroke-width="1"/>
<line x1="444.2" y1="257" x2="510.5" y2="257" stroke="#000" stroke-width="1"/>
<line x1="444.2" y1="257.0" x2="446.2" y2="257.0" stroke="#000" stroke-width="0.7"/>
<text x="441.8" y="259.3" font-size="6.3" text-anchor="end" font-weight="normal" fill="#000" font-family="Liberation Sans, sans-serif" stroke="#000" stroke-width="0.12">0</text>
<line x1="444.2" y1="245.6" x2="446.2" y2="245.6" stroke="#000" stroke-width="0.7"/>
<text x="441.8" y="247.8" font-size="6.3" text-anchor="end" font-weight="normal" fill="#000" font-family="Liberation Sans, sans-serif" stroke="#000" stroke-width="0.12">10</text>
<line x1="444.2" y1="234.1" x2="446.2" y2="234.1" stroke="#000" stroke-width="0.7"/>
<text x="441.8" y="236.4" font-size="6.3" text-anchor="end" font-weight="normal" fill="#000" font-family="Liberation Sans, sans-serif" stroke="#000" stroke-width="0.12">20</text>
<line x1="444.2" y1="222.7" x2="446.2" y2="222.7" stroke="#000" stroke-width="0.7"/>
<text x="441.8" y="224.9" font-size="6.3" text-anchor="end" font-weight="normal" fill="#000" font-family="Liberation Sans, sans-serif" stroke="#000" stroke-width="0.12">30</text>
<line x1="444.2" y1="211.2" x2="446.2" y2="211.2" stroke="#000" stroke-width="0.7"/>
<text x="441.8" y="213.5" font-size="6.3" text-anchor="end" font-weight="normal" fill="#000" font-family="Liberation Sans, sans-serif" stroke="#000" stroke-width="0.12">40</text>
<line x1="444.2" y1="199.8" x2="446.2" y2="199.8" stroke="#000" stroke-width="0.7"/>
<text x="441.8" y="202.0" font-size="6.3" text-anchor="end" font-weight="normal" fill="#000" font-family="Liberation Sans, sans-serif" stroke="#000" stroke-width="0.12">50</text>
<line x1="444.2" y1="188.3" x2="446.2" y2="188.3" stroke="#000" stroke-width="0.7"/>
<text x="441.8" y="190.6" font-size="6.3" text-anchor="end" font-weight="normal" fill="#000" font-family="Liberation Sans, sans-serif" stroke="#000" stroke-width="0.12">60</text>
<line x1="444.2" y1="176.9" x2="446.2" y2="176.9" stroke="#000" stroke-width="0.7"/>
<text x="441.8" y="179.2" font-size="6.3" text-anchor="end" font-weight="normal" fill="#000" font-family="Liberation Sans, sans-serif" stroke="#000" stroke-width="0.12">70</text>
<line x1="444.2" y1="165.4" x2="446.2" y2="165.4" stroke="#000" stroke-width="0.7"/>
<text x="441.8" y="167.7" font-size="6.3" text-anchor="end" font-weight="normal" fill="#000" font-family="Liberation Sans, sans-serif" stroke="#000" stroke-width="0.12">80</text>
<line x1="444.2" y1="154.0" x2="446.2" y2="154.0" stroke="#000" stroke-width="0.7"/>
<text x="441.8" y="156.3" font-size="6.3" text-anchor="end" font-weight="normal" fill="#000" font-family="Liberation Sans, sans-serif" stroke="#000" stroke-width="0.12">90</text>
<line x1="445.9" y1="257" x2="445.9" y2="259" stroke="#000" stroke-width="0.6"/>
<line x1="467.5" y1="257" x2="467.5" y2="259" stroke="#000" stroke-width="0.6"/>
<line x1="489.1" y1="257" x2="489.1" y2="259" stroke="#000" stroke-width="0.6"/>
<line x1="510.7" y1="257" x2="510.7" y2="259" stroke="#000" stroke-width="0.6"/>
<text x="432.2" y="196.7" font-size="9.8" text-anchor="middle" font-weight="normal" fill="#000" font-family="Liberation Sans, sans-serif" transform="rotate(-90 432.2 196.7)" stroke="#000" stroke-width="0.2">Inhibition (%)</text>
<text x="458.4" y="263.5" font-size="7.8" text-anchor="end" font-weight="normal" fill="#000" font-family="Liberation Sans, sans-serif" transform="rotate(-42 458.4 263.5)" stroke="#000" stroke-width="0.15">MAdCAM1</text>
<text x="479.1" y="263.5" font-size="9.75" text-anchor="end" font-weight="normal" fill="#000" font-family="Liberation Sans, sans-serif" transform="rotate(-42.5 479.1 263.5)" stroke="#000" stroke-width="0.15">Maraviroc</text>
<text x="503.7" y="263.5" font-size="9.8" text-anchor="end" font-weight="normal" fill="#000" font-family="Liberation Sans, sans-serif" transform="rotate(-44 503.7 263.5)" stroke="#000" stroke-width="0.15">Mad+Mara</text>
<rect x="60.5" y="371.9" width="11.5" height="58.3" fill="#000"/>
<line x1="66.2" y1="371.9" x2="66.2" y2="365.1" stroke="#222" stroke-width="0.6"/>
<line x1="65.0" y1="365.1" x2="67.4" y2="365.1" stroke="#222" stroke-width="0.6"/>
<rect x="87.8" y="334.2" width="11.5" height="96.0" fill="#000"/>
<line x1="93.5" y1="334.2" x2="93.5" y2="325.7" stroke="#222" stroke-width="0.6"/>
<line x1="92.3" y1="325.7" x2="94.7" y2="325.7" stroke="#222" stroke-width="0.6"/>
<rect x="115.5" y="351.4" width="11.5" height="78.8" fill="#000"/>
<line x1="121.2" y1="351.4" x2="121.2" y2="339.9" stroke="#222" stroke-width="0.6"/>
<line x1="120.0" y1="339.9" x2="122.4" y2="339.9" stroke="#222" stroke-width="0.6"/>
<rect x="143.2" y="333.4" width="11.5" height="96.8" fill="#000"/>
<line x1="148.9" y1="333.4" x2="148.9" y2="325.0" stroke="#222" stroke-width="0.6"/>
<line x1="147.7" y1="325.0" x2="150.1" y2="325.0" stroke="#222" stroke-width="0.6"/>
<rect x="170.4" y="317.9" width="11.5" height="112.3" fill="#000"/>
<line x1="176.2" y1="317.9" x2="176.2" y2="306.8" stroke="#222" stroke-width="0.6"/>
<line x1="175.0" y1="306.8" x2="177.4" y2="306.8" stroke="#222" stroke-width="0.6"/>
<line x1="52.6" y1="292.70000000000005" x2="52.6" y2="430.7" stroke="#000" stroke-width="1"/>
<line x1="50.6" y1="430.2" x2="190.4" y2="430.2" stroke="#000" stroke-width="1"/>
<line x1="50.6" y1="430.2" x2="52.6" y2="430.2" stroke="#000" stroke-width="0.7"/>
<text x="47.0" y="432.8" font-size="7.2" text-anchor="end" font-weight="normal" fill="#000" font-family="Liberation Sans, sans-serif" stroke="#000" stroke-width="0.12">0</text>
<line x1="50.6" y1="413.1" x2="52.6" y2="413.1" stroke="#000" stroke-width="0.7"/>
<text x="47.0" y="415.7" font-size="7.2" text-anchor="end" font-weight="normal" fill="#000" font-family="Liberation Sans, sans-serif" stroke="#000" stroke-width="0.12">10</text>
<line x1="50.6" y1="395.9" x2="52.6" y2="395.9" stroke="#000" stroke-width="0.7"/>
<text x="47.0" y="398.5" font-size="7.2" text-anchor="end" font-weight="normal" fill="#000" font-family="Liberation Sans, sans-serif" stroke="#000" stroke-width="0.12">20</text>
<line x1="50.6" y1="378.8" x2="52.6" y2="378.8" stroke="#000" stroke-width="0.7"/>
<text x="47.0" y="381.4" font-size="7.2" text-anchor="end" font-weight="normal" fill="#000" font-family="Liberation Sans, sans-serif" stroke="#000" stroke-width="0.12">30</text>
<line x1="50.6" y1="361.6" x2="52.6" y2="361.6" stroke="#000" stroke-width="0.7"/>
<text x="47.0" y="364.2" font-size="7.2" text-anchor="end" font-weight="normal" fill="#000" font-family="Liberation Sans, sans-serif" stroke="#000" stroke-width="0.12">40</text>
<line x1="50.6" y1="344.5" x2="52.6" y2="344.5" stroke="#000" stroke-width="0.7"/>
<text x="47.0" y="347.1" font-size="7.2" text-anchor="end" font-weight="normal" fill="#000" font-family="Liberation Sans, sans-serif" stroke="#000" stroke-width="0.12">50</text>
<line x1="50.6" y1="327.4" x2="52.6" y2="327.4" stroke="#000" stroke-width="0.7"/>
<text x="47.0" y="330.0" font-size="7.2" text-anchor="end" font-weight="normal" fill="#000" font-family="Liberation Sans, sans-serif" stroke="#000" stroke-width="0.12">60</text>
<line x1="50.6" y1="310.2" x2="52.6" y2="310.2" stroke="#000" stroke-width="0.7"/>
<text x="47.0" y="312.8" font-size="7.2" text-anchor="end" font-weight="normal" fill="#000" font-family="Liberation Sans, sans-serif" stroke="#000" stroke-width="0.12">70</text>
<line x1="50.6" y1="293.1" x2="52.6" y2="293.1" stroke="#000" stroke-width="0.7"/>
<text x="47.0" y="295.7" font-size="7.2" text-anchor="end" font-weight="normal" fill="#000" font-family="Liberation Sans, sans-serif" stroke="#000" stroke-width="0.12">80</text>
<line x1="52.6" y1="430.2" x2="52.6" y2="432.2" stroke="#000" stroke-width="0.6"/>
<line x1="79.8" y1="430.2" x2="79.8" y2="432.2" stroke="#000" stroke-width="0.6"/>
<line x1="107.2" y1="430.2" x2="107.2" y2="432.2" stroke="#000" stroke-width="0.6"/>
<line x1="134.4" y1="430.2" x2="134.4" y2="432.2" stroke="#000" stroke-width="0.6"/>
<line x1="161.8" y1="430.2" x2="161.8" y2="432.2" stroke="#000" stroke-width="0.6"/>
<line x1="189.1" y1="430.2" x2="189.1" y2="432.2" stroke="#000" stroke-width="0.6"/>
<text x="33.8" y="368.5" font-size="10.0" text-anchor="middle" font-weight="normal" fill="#000" font-family="Liberation Sans, sans-serif" transform="rotate(-90 33.8 368.5)" stroke="#000" stroke-width="0.2">Inhibition of binding (%)</text>
<text x="66.5" y="437.9" font-size="8.1" text-anchor="end" font-weight="normal" fill="#000" font-family="Liberation Sans, sans-serif" transform="rotate(-43 66.5 437.9)" stroke="#000" stroke-width="0.15">CCR5 Ab 45531</text>
<text x="94.2" y="441.4" font-size="8.1" text-anchor="end" font-weight="normal" fill="#000" font-family="Liberation Sans, sans-serif" transform="rotate(-43 94.2 441.4)" stroke="#000" stroke-width="0.15">CCR5 Ab 2D7</text>
<text x="123.7" y="437.9" font-size="8.1" text-anchor="end" font-weight="normal" fill="#000" font-family="Liberation Sans, sans-serif" transform="rotate(-43 123.7 437.9)" stroke="#000" stroke-width="0.15">β7 Ab FIB27</text>
<text x="151.7" y="437.1" font-size="8.1" text-anchor="end" font-weight="normal" fill="#000" font-family="Liberation Sans, sans-serif" transform="rotate(-43 151.7 437.1)" stroke="#000" stroke-width="0.15">β7 Ab FIB504</text>
<text x="176.4" y="437.1" font-size="8.1" text-anchor="end" font-weight="normal" fill="#000" font-family="Liberation Sans, sans-serif" transform="rotate(-44 176.4 437.1)" stroke="#000" stroke-width="0.15">α4 Ab HP2/1</text>
<rect x="265.7" y="359.8" width="10.6" height="66.4" fill="#000"/>
<line x1="271.0" y1="359.8" x2="271.0" y2="352.4" stroke="#222" stroke-width="0.6"/>
<line x1="269.8" y1="352.4" x2="272.2" y2="352.4" stroke="#222" stroke-width="0.6"/>
<rect x="292.8" y="348.5" width="10.6" height="77.7" fill="#000"/>
<line x1="298.1" y1="348.5" x2="298.1" y2="342.3" stroke="#222" stroke-width="0.6"/>
<line x1="296.9" y1="342.3" x2="299.2" y2="342.3" stroke="#222" stroke-width="0.6"/>
<rect x="319.8" y="311.4" width="10.6" height="114.8" fill="#000"/>
<line x1="325.1" y1="311.4" x2="325.1" y2="304.5" stroke="#222" stroke-width="0.6"/>
<line x1="323.9" y1="304.5" x2="326.3" y2="304.5" stroke="#222" stroke-width="0.6"/>
<rect x="346.8" y="339.2" width="10.6" height="87.0" fill="#000"/>
<line x1="352.1" y1="339.2" x2="352.1" y2="327.8" stroke="#222" stroke-width="0.6"/>
<line x1="350.9" y1="327.8" x2="353.3" y2="327.8" stroke="#222" stroke-width="0.6"/>
<rect x="373.9" y="370.7" width="10.6" height="55.5" fill="#000"/>
<line x1="379.2" y1="370.7" x2="379.2" y2="361.3" stroke="#222" stroke-width="0.6"/>
<line x1="378.0" y1="361.3" x2="380.4" y2="361.3" stroke="#222" stroke-width="0.6"/>
<rect x="400.9" y="340.6" width="10.6" height="85.6" fill="#000"/>
<line x1="406.2" y1="340.6" x2="406.2" y2="334.5" stroke="#222" stroke-width="0.6"/>
<line x1="405.1" y1="334.5" x2="407.4" y2="334.5" stroke="#222" stroke-width="0.6"/>
<rect x="428.0" y="356.6" width="10.6" height="69.6" fill="#000"/>
<line x1="433.3" y1="356.6" x2="433.3" y2="344.0" stroke="#222" stroke-width="0.6"/>
<line x1="432.1" y1="344.0" x2="434.5" y2="344.0" stroke="#222" stroke-width="0.6"/>
<rect x="455.1" y="356.6" width="10.6" height="69.6" fill="#000"/>
<line x1="460.4" y1="356.6" x2="460.4" y2="345.2" stroke="#222" stroke-width="0.6"/>
<line x1="459.2" y1="345.2" x2="461.6" y2="345.2" stroke="#222" stroke-width="0.6"/>
<line x1="257.5" y1="297.3" x2="257.5" y2="426.7" stroke="#000" stroke-width="1"/>
<line x1="255.5" y1="426.2" x2="474.5" y2="426.2" stroke="#000" stroke-width="1"/>
<line x1="255.5" y1="426.2" x2="257.5" y2="426.2" stroke="#000" stroke-width="0.7"/>
<text x="251.9" y="428.8" font-size="7.3" text-anchor="end" font-weight="normal" fill="#000" font-family="Liberation Sans, sans-serif" stroke="#000" stroke-width="0.12">0</text>
<line x1="255.5" y1="413.3" x2="257.5" y2="413.3" stroke="#000" stroke-width="0.7"/>
<text x="251.9" y="416.0" font-size="7.3" text-anchor="end" font-weight="normal" fill="#000" font-family="Liberation Sans, sans-serif" stroke="#000" stroke-width="0.12">10</text>
<line x1="255.5" y1="400.5" x2="257.5" y2="400.5" stroke="#000" stroke-width="0.7"/>
<text x="251.9" y="403.1" font-size="7.3" text-anchor="end" font-weight="normal" fill="#000" font-family="Liberation Sans, sans-serif" stroke="#000" stroke-width="0.12">20</text>
<line x1="255.5" y1="387.6" x2="257.5" y2="387.6" stroke="#000" stroke-width="0.7"/>
<text x="251.9" y="390.3" font-size="7.3" text-anchor="end" font-weight="normal" fill="#000" font-family="Liberation Sans, sans-serif" stroke="#000" stroke-width="0.12">30</text>
<line x1="255.5" y1="374.8" x2="257.5" y2="374.8" stroke="#000" stroke-width="0.7"/>
<text x="251.9" y="377.4" font-size="7.3" text-anchor="end" font-weight="normal" fill="#000" font-family="Liberation Sans, sans-serif" stroke="#000" stroke-width="0.12">40</text>
<line x1="255.5" y1="361.9" x2="257.5" y2="361.9" stroke="#000" stroke-width="0.7"/>
<text x="251.9" y="364.6" font-size="7.3" text-anchor="end" font-weight="normal" fill="#000" font-family="Liberation Sans, sans-serif" stroke="#000" stroke-width="0.12">50</text>
<line x1="255.5" y1="349.1" x2="257.5" y2="349.1" stroke="#000" stroke-width="0.7"/>
<text x="251.9" y="351.7" font-size="7.3" text-anchor="end" font-weight="normal" fill="#000" font-family="Liberation Sans, sans-serif" stroke="#000" stroke-width="0.12">60</text>
<line x1="255.5" y1="336.2" x2="257.5" y2="336.2" stroke="#000" stroke-width="0.7"/>
<text x="251.9" y="338.9" font-size="7.3" text-anchor="end" font-weight="normal" fill="#000" font-family="Liberation Sans, sans-serif" stroke="#000" stroke-width="0.12">70</text>
<line x1="255.5" y1="323.4" x2="257.5" y2="323.4" stroke="#000" stroke-width="0.7"/>
<text x="251.9" y="326.0" font-size="7.3" text-anchor="end" font-weight="normal" fill="#000" font-family="Liberation Sans, sans-serif" stroke="#000" stroke-width="0.12">80</text>
<line x1="255.5" y1="310.6" x2="257.5" y2="310.6" stroke="#000" stroke-width="0.7"/>
<text x="251.9" y="313.2" font-size="7.3" text-anchor="end" font-weight="normal" fill="#000" font-family="Liberation Sans, sans-serif" stroke="#000" stroke-width="0.12">90</text>
<line x1="255.5" y1="297.7" x2="257.5" y2="297.7" stroke="#000" stroke-width="0.7"/>
<text x="251.9" y="300.3" font-size="7.3" text-anchor="end" font-weight="normal" fill="#000" font-family="Liberation Sans, sans-serif" stroke="#000" stroke-width="0.12">100</text>
<line x1="257.5" y1="426.2" x2="257.5" y2="428.2" stroke="#000" stroke-width="0.6"/>
<line x1="284.5" y1="426.2" x2="284.5" y2="428.2" stroke="#000" stroke-width="0.6"/>
<line x1="311.6" y1="426.2" x2="311.6" y2="428.2" stroke="#000" stroke-width="0.6"/>
<line x1="338.6" y1="426.2" x2="338.6" y2="428.2" stroke="#000" stroke-width="0.6"/>
<line x1="365.7" y1="426.2" x2="365.7" y2="428.2" stroke="#000" stroke-width="0.6"/>
<line x1="392.7" y1="426.2" x2="392.7" y2="428.2" stroke="#000" stroke-width="0.6"/>
<line x1="419.8" y1="426.2" x2="419.8" y2="428.2" stroke="#000" stroke-width="0.6"/>
<line x1="446.8" y1="426.2" x2="446.8" y2="428.2" stroke="#000" stroke-width="0.6"/>
<line x1="473.9" y1="426.2" x2="473.9" y2="428.2" stroke="#000" stroke-width="0.6"/>
<text x="237.3" y="360.8" font-size="10.05" text-anchor="middle" font-weight="normal" fill="#000" font-family="Liberation Sans, sans-serif" transform="rotate(-90 237.3 360.8)" stroke="#000" stroke-width="0.2">Inhibition of cell death (%)</text>
<text x="278.1" y="440.5" font-size="7.9" text-anchor="end" font-weight="normal" fill="#000" font-family="Liberation Sans, sans-serif" transform="rotate(-42 278.1 440.5)" stroke="#000" stroke-width="0.15">gp120+MAdCAM1</text>
<text x="301.4" y="437.4" font-size="8.1" text-anchor="end" font-weight="normal" fill="#000" font-family="Liberation Sans, sans-serif" transform="rotate(-45.5 301.4 437.4)" stroke="#000" stroke-width="0.15">gp120+Maraviroc</text>
<text x="330.6" y="436.4" font-size="8.1" text-anchor="end" font-weight="normal" fill="#000" font-family="Liberation Sans, sans-serif" transform="rotate(-45.5 330.6 436.4)" stroke="#000" stroke-width="0.15">gp120+MAdCAM1+Maraviroc</text>
<text x="355.4" y="439.4" font-size="8.0" text-anchor="end" font-weight="normal" fill="#000" font-family="Liberation Sans, sans-serif" transform="rotate(-45.5 355.4 439.4)" stroke="#000" stroke-width="0.15">gp120+CCR5 Ab 45531</text>
<text x="380.1" y="438.7" font-size="8.1" text-anchor="end" font-weight="normal" fill="#000" font-family="Liberation Sans, sans-serif" transform="rotate(-45.5 380.1 438.7)" stroke="#000" stroke-width="0.15">gp120+CCR5 Ab 2D7</text>
<text x="406.5" y="439.4" font-size="8.1" text-anchor="end" font-weight="normal" fill="#000" font-family="Liberation Sans, sans-serif" transform="rotate(-45 406.5 439.4)" stroke="#000" stroke-width="0.15">gp120+β7 Ab FIB27</text>
<text x="430.7" y="438.7" font-size="8.2" text-anchor="end" font-weight="normal" fill="#000" font-family="Liberation Sans, sans-serif" transform="rotate(-45.5 430.7 438.7)" stroke="#000" stroke-width="0.15">gp120+β7 Ab FIB504</text>
<text x="458.5" y="438.2" font-size="8.3" text-anchor="end" font-weight="normal" fill="#000" font-family="Liberation Sans, sans-serif" transform="rotate(-45.5 458.5 438.2)" stroke="#000" stroke-width="0.15">gp120+α7 Ab HP2/1</text>
<rect x="417.6" y="623.2" width="11" height="10.7" fill="#000"/>
<line x1="423.1" y1="623.2" x2="423.1" y2="613.2" stroke="#999" stroke-width="0.9"/>
<line x1="421.9" y1="613.2" x2="424.3" y2="613.2" stroke="#999" stroke-width="0.9"/>
<rect x="443.4" y="582.0" width="11" height="51.9" fill="#000"/>
<line x1="448.9" y1="582.0" x2="448.9" y2="570.0" stroke="#999" stroke-width="0.9"/>
<line x1="447.7" y1="570.0" x2="450.1" y2="570.0" stroke="#999" stroke-width="0.9"/>
<rect x="469.5" y="556.7" width="11" height="77.2" fill="#000"/>
<line x1="475.0" y1="556.7" x2="475.0" y2="546.9" stroke="#999" stroke-width="0.9"/>
<line x1="473.8" y1="546.9" x2="476.2" y2="546.9" stroke="#999" stroke-width="0.9"/>
<line x1="409.8" y1="531.8000000000001" x2="409.8" y2="634.4" stroke="#555" stroke-width="1"/>
<line x1="407.8" y1="633.9" x2="488.8" y2="633.9" stroke="#555" stroke-width="1"/>
<line x1="407.8" y1="633.9" x2="409.8" y2="633.9" stroke="#555" stroke-width="0.7"/>
<text x="404.2" y="636.5" font-size="7.3" text-anchor="end" font-weight="normal" fill="#000" font-family="Liberation Sans, sans-serif" stroke="#000" stroke-width="0.12">0</text>
<line x1="407.8" y1="621.2" x2="409.8" y2="621.2" stroke="#555" stroke-width="0.7"/>
<text x="404.2" y="623.8" font-size="7.3" text-anchor="end" font-weight="normal" fill="#000" font-family="Liberation Sans, sans-serif" stroke="#000" stroke-width="0.12">10</text>
<line x1="407.8" y1="608.5" x2="409.8" y2="608.5" stroke="#555" stroke-width="0.7"/>
<text x="404.2" y="611.1" font-size="7.3" text-anchor="end" font-weight="normal" fill="#000" font-family="Liberation Sans, sans-serif" stroke="#000" stroke-width="0.12">20</text>
<line x1="407.8" y1="595.8" x2="409.8" y2="595.8" stroke="#555" stroke-width="0.7"/>
<text x="404.2" y="598.4" font-size="7.3" text-anchor="end" font-weight="normal" fill="#000" font-family="Liberation Sans, sans-serif" stroke="#000" stroke-width="0.12">30</text>
<line x1="407.8" y1="583.0" x2="409.8" y2="583.0" stroke="#555" stroke-width="0.7"/>
<text x="404.2" y="585.7" font-size="7.3" text-anchor="end" font-weight="normal" fill="#000" font-family="Liberation Sans, sans-serif" stroke="#000" stroke-width="0.12">40</text>
<line x1="407.8" y1="570.3" x2="409.8" y2="570.3" stroke="#555" stroke-width="0.7"/>
<text x="404.2" y="573.0" font-size="7.3" text-anchor="end" font-weight="normal" fill="#000" font-family="Liberation Sans, sans-serif" stroke="#000" stroke-width="0.12">50</text>
<line x1="407.8" y1="557.6" x2="409.8" y2="557.6" stroke="#555" stroke-width="0.7"/>
<text x="404.2" y="560.3" font-size="7.3" text-anchor="end" font-weight="normal" fill="#000" font-family="Liberation Sans, sans-serif" stroke="#000" stroke-width="0.12">60</text>
<line x1="407.8" y1="544.9" x2="409.8" y2="544.9" stroke="#555" stroke-width="0.7"/>
<text x="404.2" y="547.5" font-size="7.3" text-anchor="end" font-weight="normal" fill="#000" font-family="Liberation Sans, sans-serif" stroke="#000" stroke-width="0.12">70</text>
<line x1="407.8" y1="532.2" x2="409.8" y2="532.2" stroke="#555" stroke-width="0.7"/>
<text x="404.2" y="534.8" font-size="7.3" text-anchor="end" font-weight="normal" fill="#000" font-family="Liberation Sans, sans-serif" stroke="#000" stroke-width="0.12">80</text>
<line x1="410.2" y1="633.9" x2="410.2" y2="635.9" stroke="#000" stroke-width="0.6"/>
<line x1="436.0" y1="633.9" x2="436.0" y2="635.9" stroke="#000" stroke-width="0.6"/>
<line x1="461.8" y1="633.9" x2="461.8" y2="635.9" stroke="#000" stroke-width="0.6"/>
<line x1="487.6" y1="633.9" x2="487.6" y2="635.9" stroke="#000" stroke-width="0.6"/>
<text x="386.8" y="587.8" font-size="9.9" text-anchor="middle" font-weight="normal" fill="#000" font-family="Liberation Sans, sans-serif" transform="rotate(-90 386.8 587.8)" stroke="#000" stroke-width="0.2">Cell death (%)</text>
<text x="424.2" y="646.8" font-size="8.45" text-anchor="end" font-weight="normal" fill="#000" font-family="Liberation Sans, sans-serif" transform="rotate(-43 424.2 646.8)" stroke="#000" stroke-width="0.15">Medium</text>
<text x="448.1" y="647.7" font-size="8.2" text-anchor="end" font-weight="normal" fill="#000" font-family="Liberation Sans, sans-serif" transform="rotate(-46 448.1 647.7)" stroke="#000" stroke-width="0.15">gp120</text>
<text x="477.1" y="644.9" font-size="8.0" text-anchor="end" font-weight="normal" fill="#000" font-family="Liberation Sans, sans-serif" transform="rotate(-45.5 477.1 644.9)" stroke="#000" stroke-width="0.15">gp120+RA</text>
<rect x="41.2" y="530.9" width="106.89999999999999" height="102.39999999999998" fill="none" stroke="#222" stroke-width="0.7"/>
<line x1="41.2" y1="633.3" x2="39.0" y2="633.3" stroke="#222" stroke-width="0.6"/>
<text x="37.4" y="635.2" font-size="5.3" text-anchor="end" font-weight="normal" fill="#111" font-family="Liberation Sans, sans-serif" stroke="#111" stroke-width="0.15">0</text>
<line x1="41.2" y1="623.5" x2="40.0" y2="623.5" stroke="#222" stroke-width="0.6"/>
<line x1="41.2" y1="613.7" x2="39.0" y2="613.7" stroke="#222" stroke-width="0.6"/>
<text x="37.4" y="615.6" font-size="5.3" text-anchor="end" font-weight="normal" fill="#111" font-family="Liberation Sans, sans-serif" stroke="#111" stroke-width="0.15">20</text>
<line x1="41.2" y1="604.0" x2="40.0" y2="604.0" stroke="#222" stroke-width="0.6"/>
<line x1="41.2" y1="594.2" x2="39.0" y2="594.2" stroke="#222" stroke-width="0.6"/>
<text x="37.4" y="596.1" font-size="5.3" text-anchor="end" font-weight="normal" fill="#111" font-family="Liberation Sans, sans-serif" stroke="#111" stroke-width="0.15">40</text>
<line x1="41.2" y1="584.4" x2="40.0" y2="584.4" stroke="#222" stroke-width="0.6"/>
<line x1="41.2" y1="574.6" x2="39.0" y2="574.6" stroke="#222" stroke-width="0.6"/>
<text x="37.4" y="576.5" font-size="5.3" text-anchor="end" font-weight="normal" fill="#111" font-family="Liberation Sans, sans-serif" stroke="#111" stroke-width="0.15">60</text>
<line x1="41.2" y1="564.8" x2="40.0" y2="564.8" stroke="#222" stroke-width="0.6"/>
<line x1="41.2" y1="555.1" x2="39.0" y2="555.1" stroke="#222" stroke-width="0.6"/>
<text x="37.4" y="557.0" font-size="5.3" text-anchor="end" font-weight="normal" fill="#111" font-family="Liberation Sans, sans-serif" stroke="#111" stroke-width="0.15">80</text>
<line x1="41.2" y1="545.3" x2="40.0" y2="545.3" stroke="#222" stroke-width="0.6"/>
<line x1="41.2" y1="535.5" x2="39.0" y2="535.5" stroke="#222" stroke-width="0.6"/>
<text x="37.4" y="537.4" font-size="5.3" text-anchor="end" font-weight="normal" fill="#111" font-family="Liberation Sans, sans-serif" stroke="#111" stroke-width="0.15">100</text>
<line x1="41.2" y1="633.3" x2="41.2" y2="635.5" stroke="#222" stroke-width="0.6"/>
<line x1="49.2" y1="633.3" x2="49.2" y2="634.5" stroke="#222" stroke-width="0.4"/>
<line x1="54.0" y1="633.3" x2="54.0" y2="634.5" stroke="#222" stroke-width="0.4"/>
<line x1="57.3" y1="633.3" x2="57.3" y2="634.5" stroke="#222" stroke-width="0.4"/>
<line x1="59.9" y1="633.3" x2="59.9" y2="634.5" stroke="#222" stroke-width="0.4"/>
<line x1="62.0" y1="633.3" x2="62.0" y2="634.5" stroke="#222" stroke-width="0.4"/>
<line x1="63.8" y1="633.3" x2="63.8" y2="634.5" stroke="#222" stroke-width="0.4"/>
<line x1="65.3" y1="633.3" x2="65.3" y2="634.5" stroke="#222" stroke-width="0.4"/>
<line x1="66.7" y1="633.3" x2="66.7" y2="634.5" stroke="#222" stroke-width="0.4"/>
<text x="40.6" y="643.5" font-size="5.6" text-anchor="middle" fill="#111" stroke="#111" stroke-width="0.15" font-family="Liberation Sans, sans-serif">10<tspan dy="-2.3" font-size="3.9">0</tspan></text>
<line x1="67.9" y1="633.3" x2="67.9" y2="635.5" stroke="#222" stroke-width="0.6"/>
<line x1="76.0" y1="633.3" x2="76.0" y2="634.5" stroke="#222" stroke-width="0.4"/>
<line x1="80.7" y1="633.3" x2="80.7" y2="634.5" stroke="#222" stroke-width="0.4"/>
<line x1="84.0" y1="633.3" x2="84.0" y2="634.5" stroke="#222" stroke-width="0.4"/>
<line x1="86.6" y1="633.3" x2="86.6" y2="634.5" stroke="#222" stroke-width="0.4"/>
<line x1="88.7" y1="633.3" x2="88.7" y2="634.5" stroke="#222" stroke-width="0.4"/>
<line x1="90.5" y1="633.3" x2="90.5" y2="634.5" stroke="#222" stroke-width="0.4"/>
<line x1="92.1" y1="633.3" x2="92.1" y2="634.5" stroke="#222" stroke-width="0.4"/>
<line x1="93.4" y1="633.3" x2="93.4" y2="634.5" stroke="#222" stroke-width="0.4"/>
<text x="67.3" y="643.5" font-size="5.6" text-anchor="middle" fill="#111" stroke="#111" stroke-width="0.15" font-family="Liberation Sans, sans-serif">10<tspan dy="-2.3" font-size="3.9">1</tspan></text>
<line x1="94.7" y1="633.3" x2="94.7" y2="635.5" stroke="#222" stroke-width="0.6"/>
<line x1="102.7" y1="633.3" x2="102.7" y2="634.5" stroke="#222" stroke-width="0.4"/>
<line x1="107.4" y1="633.3" x2="107.4" y2="634.5" stroke="#222" stroke-width="0.4"/>
<line x1="110.7" y1="633.3" x2="110.7" y2="634.5" stroke="#222" stroke-width="0.4"/>
<line x1="113.3" y1="633.3" x2="113.3" y2="634.5" stroke="#222" stroke-width="0.4"/>
<line x1="115.4" y1="633.3" x2="115.4" y2="634.5" stroke="#222" stroke-width="0.4"/>
<line x1="117.2" y1="633.3" x2="117.2" y2="634.5" stroke="#222" stroke-width="0.4"/>
<line x1="118.8" y1="633.3" x2="118.8" y2="634.5" stroke="#222" stroke-width="0.4"/>
<line x1="120.2" y1="633.3" x2="120.2" y2="634.5" stroke="#222" stroke-width="0.4"/>
<text x="94.1" y="643.5" font-size="5.6" text-anchor="middle" fill="#111" stroke="#111" stroke-width="0.15" font-family="Liberation Sans, sans-serif">10<tspan dy="-2.3" font-size="3.9">2</tspan></text>
<line x1="121.4" y1="633.3" x2="121.4" y2="635.5" stroke="#222" stroke-width="0.6"/>
<line x1="129.4" y1="633.3" x2="129.4" y2="634.5" stroke="#222" stroke-width="0.4"/>
<line x1="134.1" y1="633.3" x2="134.1" y2="634.5" stroke="#222" stroke-width="0.4"/>
<line x1="137.5" y1="633.3" x2="137.5" y2="634.5" stroke="#222" stroke-width="0.4"/>
<line x1="140.1" y1="633.3" x2="140.1" y2="634.5" stroke="#222" stroke-width="0.4"/>
<line x1="142.2" y1="633.3" x2="142.2" y2="634.5" stroke="#222" stroke-width="0.4"/>
<line x1="144.0" y1="633.3" x2="144.0" y2="634.5" stroke="#222" stroke-width="0.4"/>
<line x1="145.5" y1="633.3" x2="145.5" y2="634.5" stroke="#222" stroke-width="0.4"/>
<line x1="146.9" y1="633.3" x2="146.9" y2="634.5" stroke="#222" stroke-width="0.4"/>
<text x="120.8" y="643.5" font-size="5.6" text-anchor="middle" fill="#111" stroke="#111" stroke-width="0.15" font-family="Liberation Sans, sans-serif">10<tspan dy="-2.3" font-size="3.9">3</tspan></text>
<line x1="148.1" y1="633.3" x2="148.1" y2="635.5" stroke="#222" stroke-width="0.6"/>
<text x="147.5" y="643.5" font-size="5.6" text-anchor="middle" fill="#111" stroke="#111" stroke-width="0.15" font-family="Liberation Sans, sans-serif">10<tspan dy="-2.3" font-size="3.9">4</tspan></text>
<text x="25.3" y="579.7" font-size="10" text-anchor="middle" font-weight="normal" fill="#000" font-family="Liberation Sans, sans-serif" transform="rotate(-90 25.3 579.7)" stroke="#000" stroke-width="0.15">% of MAX</text>
<text x="95.2" y="653.6" font-size="10.1" text-anchor="middle" font-weight="normal" fill="#000" font-family="Liberation Sans, sans-serif" stroke="#000" stroke-width="0.3">β7 FITC</text>
<line x1="109" y1="546.0" x2="115.5" y2="546.0" stroke="#868686" stroke-width="0.9"/>
<text x="118.7" y="548.0" font-size="5.9" text-anchor="start" font-weight="normal" fill="#000" font-family="Liberation Sans, sans-serif" stroke="#000" stroke-width="0.18">Isotype</text>
<line x1="109" y1="554.2" x2="115.5" y2="554.2" stroke="#d23424" stroke-width="0.9"/>
<text x="118.7" y="556.2" font-size="5.9" text-anchor="start" font-weight="normal" fill="#000" font-family="Liberation Sans, sans-serif" stroke="#000" stroke-width="0.18">w/o RA</text>
<line x1="109" y1="562.4" x2="115.5" y2="562.4" stroke="#2c38c4" stroke-width="0.9"/>
<text x="118.7" y="564.4" font-size="5.9" text-anchor="start" font-weight="normal" fill="#000" font-family="Liberation Sans, sans-serif" stroke="#000" stroke-width="0.18">with RA</text>
<polyline points="41.8,608.7 41.6,610.7 41.7,612.1 42.2,613.6 42.3,614.4 42.0,617.0 42.2,617.8 42.4,620.5 42.2,620.8 42.7,622.4 42.6,624.2 42.8,625.9 42.7,627.9 43.3,626.3 44.2,625.7 45.1,623.9 45.6,622.2 46.1,621.5 46.9,619.0 48.0,617.8 48.5,616.4 50.4,614.5 50.4,613.4 51.1,610.6 51.2,609.8 51.3,607.8 51.7,606.8 52.1,605.2 52.3,602.9 52.5,600.5 53.1,599.1 52.9,598.1 53.4,595.7 53.8,594.6 53.9,592.8 54.3,591.4 54.5,589.0 54.4,588.1 55.2,586.8 54.9,584.6 55.2,584.2 55.6,582.0 55.8,580.5 56.2,579.5 56.2,577.9 56.1,577.3 56.7,575.0 56.9,574.0 57.0,572.0 57.0,570.0 57.5,569.2 57.6,567.9 57.9,565.3 57.9,564.5 58.1,562.5 58.2,561.2 58.4,559.6 58.6,557.1 59.1,556.1 59.0,554.8 59.1,552.8 59.3,551.5 59.9,549.3 59.8,548.6 60.0,547.2 60.2,545.7 60.4,543.4 60.8,542.0 61.2,541.2 61.3,540.0 61.7,538.4 62.0,536.0 62.0,536.8 62.7,539.2 62.8,540.4 63.1,542.0 63.1,542.9 63.3,545.2 63.4,547.6 63.5,548.1 63.8,549.6 64.0,552.2 64.2,553.3 64.8,555.3 64.8,556.8 64.8,558.6 65.4,560.4 65.0,561.8 65.6,563.7 65.3,564.5 65.6,565.8 65.8,568.7 65.7,570.4 66.1,570.9 66.1,573.1 66.2,574.7 66.4,576.0 66.4,576.7 66.6,578.3 66.7,580.3 66.6,582.3 66.6,583.6 67.0,586.0 66.8,587.6 67.2,588.5 67.0,589.5 67.1,590.8 67.2,593.4 67.4,595.0 67.6,596.1 67.7,597.6 67.7,599.1 67.8,600.8 67.8,602.7 68.2,604.2 68.1,605.9 68.6,607.4 68.3,608.4 68.8,610.1 68.4,611.0 68.9,613.2 68.9,615.3 69.1,616.4 69.1,618.9 69.3,620.1 69.5,620.5 70.0,622.2 70.0,624.7 70.3,627.1 70.6,627.9 71.4,629.2 72.5,631.8 74.5,633.0" fill="none" stroke="#7a7a7a" stroke-width="0.9" stroke-linejoin="round" opacity="1"/>
<polyline points="61.0,633.0 63.2,633.0 64.6,631.7 66.8,631.8 67.9,631.0 69.3,630.1 70.6,627.9 71.3,626.7 72.0,625.6 73.0,623.3 73.5,622.2 74.0,619.9 74.3,618.3 74.9,617.4 75.1,615.2 75.4,614.5 75.9,612.7 76.0,612.0 76.1,609.0 76.5,607.4 76.6,605.7 77.1,605.0 77.3,602.9 77.8,601.0 77.7,599.2 78.0,597.5 77.9,597.2 78.3,595.4 78.2,592.9 78.7,591.7 78.7,589.5 78.8,588.7 79.2,587.0 79.3,584.8 79.3,583.7 79.6,581.8 79.4,581.1 80.0,579.5 79.7,576.9 80.3,575.0 80.5,573.2 80.5,571.8 80.4,570.1 80.5,569.6 81.1,567.4 81.2,566.5 81.2,564.5 81.1,563.8 81.7,560.9 81.4,560.2 81.7,558.3 81.7,556.6 82.4,554.4 82.5,553.4 82.4,551.5 82.5,550.0 82.7,549.1 83.0,546.9 83.2,545.2 83.0,544.2 83.4,542.3 83.5,541.7 84.0,538.8 84.0,538.3 84.1,536.0 85.0,537.5 85.0,538.8 85.0,540.5 85.4,541.8 85.5,544.1 85.4,545.7 85.8,548.0 85.9,549.4 86.0,551.0 86.6,549.4 86.8,547.8 87.0,545.2 87.1,546.7 87.7,548.3 87.6,549.8 87.7,551.5 87.8,554.1 88.3,554.8 88.8,556.6 88.9,557.6 88.9,559.4 89.1,560.7 89.7,563.5 89.8,564.5 89.8,566.7 90.1,567.9 90.4,569.3 90.9,570.3 90.9,571.3 91.0,574.3 91.5,575.4 91.5,576.3 91.5,578.7 91.8,579.8 91.9,581.8 92.2,583.0 92.2,584.9 92.5,586.4 92.7,587.2 93.0,588.9 93.1,590.8 93.2,592.5 93.1,593.5 93.5,596.3 93.7,597.2 93.9,598.7 94.0,600.7 94.5,601.1 94.6,603.1 95.0,605.2 94.7,606.8 95.4,607.4 95.2,609.7 95.6,610.6 95.8,611.6 96.2,613.1 96.6,616.0 96.7,616.9 97.5,618.4 97.5,620.2 98.1,622.1 98.9,623.3 99.1,625.3 99.8,626.7 100.4,627.9 101.2,629.2 102.3,630.3 103.3,631.8 104.5,632.3 106.2,633.0" fill="none" stroke="#d23424" stroke-width="0.9" stroke-linejoin="round" opacity="1"/>
<polyline points="64.8,633.0 66.3,632.1 67.6,631.3 69.1,631.8 70.6,630.8 71.4,629.3 72.3,629.0 73.7,627.4 74.5,626.0 75.1,624.0 76.0,623.6 76.4,621.4 77.3,620.2 77.7,618.6 78.0,617.5 78.6,615.4 78.8,614.6 79.3,612.5 79.5,610.8 79.5,610.3 80.0,608.9 80.2,606.3 80.1,604.8 80.5,604.0 80.8,602.1 81.1,601.3 81.2,599.1 81.5,596.7 81.6,596.0 81.8,595.2 82.3,593.0 82.3,591.5 82.6,590.1 82.8,588.9 82.7,586.9 83.1,585.6 83.5,584.3 83.9,582.9 83.9,580.1 84.6,578.4 84.5,576.9 85.0,576.0 87.0,577.9 87.1,576.7 87.3,573.8 87.3,573.3 87.5,570.4 87.6,569.4 87.9,568.7 87.6,566.8 87.9,564.5 88.2,562.5 88.6,560.3 88.5,559.1 88.7,557.5 89.1,556.9 89.2,554.6 89.5,552.9 90.8,551.0 91.0,548.7 91.5,548.6 91.5,547.0 91.6,544.3 92.2,543.3 92.9,541.5 93.7,539.5 94.5,537.7 95.2,536.0 95.6,537.6 96.0,539.5 96.6,540.4 97.3,539.7 97.9,537.5 98.3,538.7 98.9,541.4 99.5,543.3 101.4,542.3 101.5,544.2 101.9,545.4 102.1,547.2 102.2,549.8 102.3,551.0 102.7,552.6 102.8,554.3 102.7,555.3 102.6,558.0 102.7,560.1 102.9,561.3 103.2,563.5 103.3,564.5 103.5,566.5 103.8,567.9 103.7,568.7 103.9,571.2 104.1,572.9 104.2,573.0 104.9,575.7 104.9,576.6 105.3,577.9 105.2,579.8 105.2,581.8 105.7,582.3 105.9,583.8 105.7,585.9 105.9,588.0 106.0,589.6 106.3,591.8 106.3,593.3 106.9,594.8 106.6,595.7 107.1,597.3 107.2,599.1 107.4,600.1 107.6,601.3 107.8,604.0 107.8,605.4 108.0,607.1 108.7,608.8 108.7,610.3 108.8,610.7 109.1,612.5 109.3,614.6 109.4,616.6 110.1,617.5 110.2,619.3 110.3,620.0 110.9,622.0 111.0,624.1 111.3,626.1 111.7,627.7 112.7,628.6 112.9,629.8 114.6,631.0 115.8,632.7 117.7,633.0" fill="none" stroke="#2c38c4" stroke-width="0.9" stroke-linejoin="round" opacity="1"/>
<rect x="152.4" y="530.9" width="107.20000000000002" height="102.39999999999998" fill="none" stroke="#222" stroke-width="0.7"/>
<line x1="152.4" y1="633.3" x2="150.20000000000002" y2="633.3" stroke="#222" stroke-width="0.6"/>
<line x1="152.4" y1="623.5" x2="151.20000000000002" y2="623.5" stroke="#222" stroke-width="0.6"/>
<line x1="152.4" y1="613.7" x2="150.20000000000002" y2="613.7" stroke="#222" stroke-width="0.6"/>
<line x1="152.4" y1="604.0" x2="151.20000000000002" y2="604.0" stroke="#222" stroke-width="0.6"/>
<line x1="152.4" y1="594.2" x2="150.20000000000002" y2="594.2" stroke="#222" stroke-width="0.6"/>
<line x1="152.4" y1="584.4" x2="151.20000000000002" y2="584.4" stroke="#222" stroke-width="0.6"/>
<line x1="152.4" y1="574.6" x2="150.20000000000002" y2="574.6" stroke="#222" stroke-width="0.6"/>
<line x1="152.4" y1="564.8" x2="151.20000000000002" y2="564.8" stroke="#222" stroke-width="0.6"/>
<line x1="152.4" y1="555.1" x2="150.20000000000002" y2="555.1" stroke="#222" stroke-width="0.6"/>
<line x1="152.4" y1="545.3" x2="151.20000000000002" y2="545.3" stroke="#222" stroke-width="0.6"/>
<line x1="152.4" y1="535.5" x2="150.20000000000002" y2="535.5" stroke="#222" stroke-width="0.6"/>
<line x1="152.4" y1="633.3" x2="152.4" y2="635.5" stroke="#222" stroke-width="0.6"/>
<line x1="160.5" y1="633.3" x2="160.5" y2="634.5" stroke="#222" stroke-width="0.4"/>
<line x1="165.2" y1="633.3" x2="165.2" y2="634.5" stroke="#222" stroke-width="0.4"/>
<line x1="168.5" y1="633.3" x2="168.5" y2="634.5" stroke="#222" stroke-width="0.4"/>
<line x1="171.1" y1="633.3" x2="171.1" y2="634.5" stroke="#222" stroke-width="0.4"/>
<line x1="173.3" y1="633.3" x2="173.3" y2="634.5" stroke="#222" stroke-width="0.4"/>
<line x1="175.0" y1="633.3" x2="175.0" y2="634.5" stroke="#222" stroke-width="0.4"/>
<line x1="176.6" y1="633.3" x2="176.6" y2="634.5" stroke="#222" stroke-width="0.4"/>
<line x1="178.0" y1="633.3" x2="178.0" y2="634.5" stroke="#222" stroke-width="0.4"/>
<text x="151.8" y="643.5" font-size="5.6" text-anchor="middle" fill="#111" stroke="#111" stroke-width="0.15" font-family="Liberation Sans, sans-serif">10<tspan dy="-2.3" font-size="3.9">0</tspan></text>
<line x1="179.2" y1="633.3" x2="179.2" y2="635.5" stroke="#222" stroke-width="0.6"/>
<line x1="187.3" y1="633.3" x2="187.3" y2="634.5" stroke="#222" stroke-width="0.4"/>
<line x1="192.0" y1="633.3" x2="192.0" y2="634.5" stroke="#222" stroke-width="0.4"/>
<line x1="195.3" y1="633.3" x2="195.3" y2="634.5" stroke="#222" stroke-width="0.4"/>
<line x1="197.9" y1="633.3" x2="197.9" y2="634.5" stroke="#222" stroke-width="0.4"/>
<line x1="200.1" y1="633.3" x2="200.1" y2="634.5" stroke="#222" stroke-width="0.4"/>
<line x1="201.8" y1="633.3" x2="201.8" y2="634.5" stroke="#222" stroke-width="0.4"/>
<line x1="203.4" y1="633.3" x2="203.4" y2="634.5" stroke="#222" stroke-width="0.4"/>
<line x1="204.8" y1="633.3" x2="204.8" y2="634.5" stroke="#222" stroke-width="0.4"/>
<text x="178.6" y="643.5" font-size="5.6" text-anchor="middle" fill="#111" stroke="#111" stroke-width="0.15" font-family="Liberation Sans, sans-serif">10<tspan dy="-2.3" font-size="3.9">1</tspan></text>
<line x1="206.0" y1="633.3" x2="206.0" y2="635.5" stroke="#222" stroke-width="0.6"/>
<line x1="214.1" y1="633.3" x2="214.1" y2="634.5" stroke="#222" stroke-width="0.4"/>
<line x1="218.8" y1="633.3" x2="218.8" y2="634.5" stroke="#222" stroke-width="0.4"/>
<line x1="222.1" y1="633.3" x2="222.1" y2="634.5" stroke="#222" stroke-width="0.4"/>
<line x1="224.7" y1="633.3" x2="224.7" y2="634.5" stroke="#222" stroke-width="0.4"/>
<line x1="226.9" y1="633.3" x2="226.9" y2="634.5" stroke="#222" stroke-width="0.4"/>
<line x1="228.6" y1="633.3" x2="228.6" y2="634.5" stroke="#222" stroke-width="0.4"/>
<line x1="230.2" y1="633.3" x2="230.2" y2="634.5" stroke="#222" stroke-width="0.4"/>
<line x1="231.6" y1="633.3" x2="231.6" y2="634.5" stroke="#222" stroke-width="0.4"/>
<text x="205.4" y="643.5" font-size="5.6" text-anchor="middle" fill="#111" stroke="#111" stroke-width="0.15" font-family="Liberation Sans, sans-serif">10<tspan dy="-2.3" font-size="3.9">2</tspan></text>
<line x1="232.8" y1="633.3" x2="232.8" y2="635.5" stroke="#222" stroke-width="0.6"/>
<line x1="240.9" y1="633.3" x2="240.9" y2="634.5" stroke="#222" stroke-width="0.4"/>
<line x1="245.6" y1="633.3" x2="245.6" y2="634.5" stroke="#222" stroke-width="0.4"/>
<line x1="248.9" y1="633.3" x2="248.9" y2="634.5" stroke="#222" stroke-width="0.4"/>
<line x1="251.5" y1="633.3" x2="251.5" y2="634.5" stroke="#222" stroke-width="0.4"/>
<line x1="253.7" y1="633.3" x2="253.7" y2="634.5" stroke="#222" stroke-width="0.4"/>
<line x1="255.4" y1="633.3" x2="255.4" y2="634.5" stroke="#222" stroke-width="0.4"/>
<line x1="257.0" y1="633.3" x2="257.0" y2="634.5" stroke="#222" stroke-width="0.4"/>
<line x1="258.4" y1="633.3" x2="258.4" y2="634.5" stroke="#222" stroke-width="0.4"/>
<text x="232.2" y="643.5" font-size="5.6" text-anchor="middle" fill="#111" stroke="#111" stroke-width="0.15" font-family="Liberation Sans, sans-serif">10<tspan dy="-2.3" font-size="3.9">3</tspan></text>
<line x1="259.6" y1="633.3" x2="259.6" y2="635.5" stroke="#222" stroke-width="0.6"/>
<text x="259.0" y="643.5" font-size="5.6" text-anchor="middle" fill="#111" stroke="#111" stroke-width="0.15" font-family="Liberation Sans, sans-serif">10<tspan dy="-2.3" font-size="3.9">4</tspan></text>
<text x="202.4" y="653.6" font-size="9.7" text-anchor="middle" font-weight="normal" fill="#000" font-family="Liberation Sans, sans-serif" stroke="#000" stroke-width="0.3">CCR5 PE</text>
<line x1="220.2" y1="546.0" x2="226.7" y2="546.0" stroke="#868686" stroke-width="0.9"/>
<text x="230.5" y="548.0" font-size="5.9" text-anchor="start" font-weight="normal" fill="#000" font-family="Liberation Sans, sans-serif" stroke="#000" stroke-width="0.18">Isotype</text>
<line x1="220.2" y1="554.2" x2="226.7" y2="554.2" stroke="#d23424" stroke-width="0.9"/>
<text x="230.5" y="556.2" font-size="5.9" text-anchor="start" font-weight="normal" fill="#000" font-family="Liberation Sans, sans-serif" stroke="#000" stroke-width="0.18">w/o RA</text>
<line x1="220.2" y1="562.4" x2="226.7" y2="562.4" stroke="#2c38c4" stroke-width="0.9"/>
<text x="230.5" y="564.4" font-size="5.9" text-anchor="start" font-weight="normal" fill="#000" font-family="Liberation Sans, sans-serif" stroke="#000" stroke-width="0.18">with RA</text>
<polyline points="153.1,610.6 153.0,612.5 153.3,613.5 153.7,615.0 153.8,616.4 153.6,618.3 153.8,620.3 154.3,621.9 154.3,623.6 154.4,625.0 155.9,623.7 157.3,624.1 158.3,621.4 159.2,620.2 160.0,618.1 160.6,617.1 161.2,616.2 162.1,614.5 162.9,612.3 163.5,611.1 163.8,610.5 164.2,607.7 165.0,606.8 165.5,606.0 166.5,603.9 167.1,601.8 167.9,601.0 168.9,598.5 169.8,597.2 170.0,595.5 170.3,593.3 170.4,591.7 171.1,590.1 171.4,588.9 171.7,586.4 171.7,585.6 172.1,584.1 172.3,582.8 172.5,580.6 172.5,579.0 172.7,577.3 172.9,576.7 173.0,575.8 173.3,573.8 173.7,572.2 174.0,570.8 173.8,569.5 174.3,567.1 174.2,566.9 174.7,564.7 174.7,563.5 175.0,561.9 174.9,560.6 175.3,559.1 175.6,556.8 175.6,555.0 176.3,553.0 176.2,552.1 176.5,549.9 176.8,548.0 177.5,546.6 177.5,545.2 178.0,544.4 178.3,541.7 178.9,540.5 179.1,538.8 179.4,536.6 179.8,537.8 180.1,540.7 180.3,541.0 180.3,543.2 180.8,545.2 181.2,548.0 181.3,549.5 181.9,551.0 182.8,549.7 183.3,547.2 183.5,549.5 183.7,550.9 183.6,552.0 183.9,554.0 183.8,555.7 184.0,557.4 183.9,559.0 184.4,560.6 184.6,560.9 184.3,562.4 184.6,564.5 184.6,565.9 185.1,567.5 185.1,569.3 185.2,570.3 185.3,572.5 185.5,574.3 185.2,574.9 185.7,576.8 185.7,577.8 185.9,580.2 185.8,580.2 185.7,581.7 186.0,584.7 186.2,585.6 186.3,587.3 186.3,588.3 186.8,589.9 186.6,591.9 186.7,592.4 186.9,595.0 187.3,596.5 187.4,597.0 187.6,598.4 187.4,600.2 187.6,603.1 188.0,603.3 188.2,605.5 188.1,606.8 188.3,608.1 188.5,610.7 188.5,612.3 188.7,613.5 188.8,614.5 189.5,615.4 189.6,617.5 189.5,618.6 189.8,619.9 190.0,622.2 190.4,624.3 191.0,625.0 191.2,627.5 191.6,627.5 191.9,629.8 193.1,630.9 193.9,631.9 194.8,633.0" fill="none" stroke="#a8a8a8" stroke-width="0.9" stroke-linejoin="round" opacity="1"/>
<polyline points="166.9,633.0 168.4,633.0 170.1,632.7 171.5,633.0 173.3,631.8 174.6,631.8 175.8,629.5 176.6,629.2 177.6,627.3 178.5,626.0 179.2,625.2 179.4,623.4 180.0,621.1 181.0,620.7 181.3,618.3 181.7,616.1 181.7,615.2 182.4,613.3 182.5,612.2 182.8,610.8 183.3,608.7 183.7,607.3 184.3,606.7 184.8,604.9 185.2,602.9 185.7,601.2 185.7,600.3 185.7,598.0 186.2,597.1 186.2,596.0 186.5,593.3 186.5,593.1 186.7,591.4 187.1,589.5 188.5,591.4 188.4,589.6 188.7,588.0 189.2,587.7 189.0,584.8 189.2,584.7 189.5,582.1 189.5,580.2 189.8,579.2 190.0,577.9 190.1,577.2 190.7,574.2 191.0,573.0 191.2,571.8 191.1,569.6 191.5,568.3 192.2,566.8 192.9,564.5 193.1,563.1 193.1,561.9 193.6,559.7 193.4,558.5 193.5,557.2 193.5,556.0 194.0,554.6 194.3,552.2 194.2,551.0 194.3,549.1 194.6,547.2 194.8,547.0 195.1,544.9 195.0,542.8 195.5,542.3 195.5,540.8 195.5,539.5 195.8,537.5 196.2,540.0 196.4,540.6 196.7,543.1 197.1,544.3 197.7,541.8 197.9,540.5 198.3,538.5 199.6,537.5 200.0,539.5 199.9,540.2 200.1,541.7 200.5,544.1 200.5,546.1 200.6,547.3 200.8,549.1 201.1,550.2 201.2,552.7 201.2,553.1 201.2,555.7 201.6,557.5 201.6,558.7 201.8,560.1 201.8,560.7 201.9,563.3 201.9,564.5 201.8,565.6 202.4,567.7 202.2,568.7 202.3,570.1 202.9,572.5 202.8,574.2 202.8,575.6 203.1,577.4 203.4,577.4 203.5,579.8 203.6,580.7 203.9,582.0 204.3,584.4 204.5,585.0 204.4,586.6 204.7,589.1 205.0,590.0 205.3,591.3 205.4,593.3 205.7,594.4 205.7,597.1 206.0,597.3 206.0,598.9 205.9,601.2 206.5,603.2 206.5,604.7 206.7,606.1 207.0,607.2 207.2,610.2 207.1,611.8 207.3,612.5 207.4,615.0 207.8,615.7 208.4,617.3 208.6,619.3 208.7,620.3 209.2,622.2 209.8,623.4 210.8,624.5 211.4,626.5 212.1,627.9 213.5,628.7 214.6,629.9 216.0,631.8 218.0,632.6 219.8,633.0" fill="none" stroke="#d23424" stroke-width="0.9" stroke-linejoin="round" opacity="1"/>
<polyline points="174.6,633.0 176.2,633.0 177.7,633.0 179.1,632.3 180.4,631.4 181.5,629.4 183.1,628.2 184.2,627.9 185.0,626.9 185.6,624.6 186.5,623.0 187.1,622.2 187.6,621.5 188.1,618.3 189.1,617.3 189.4,616.5 190.0,614.5 190.2,612.2 190.9,610.8 191.4,609.8 191.7,609.0 191.9,606.8 192.4,605.1 192.4,602.9 192.9,602.1 193.1,599.8 193.7,597.9 193.8,597.2 194.4,595.9 194.4,594.7 194.6,592.6 195.1,591.1 195.0,588.3 195.5,586.7 195.8,585.6 195.7,583.9 196.3,583.1 196.1,580.9 196.6,580.2 196.6,577.2 197.1,576.6 197.2,574.8 197.2,572.8 197.4,572.5 197.7,570.2 198.0,567.9 198.0,566.4 198.5,565.3 198.8,564.1 198.7,562.1 199.2,560.6 200.6,558.7 200.5,557.4 200.9,555.3 201.3,554.1 201.4,551.6 201.5,550.8 202.0,548.2 201.9,547.2 202.1,545.7 203.0,543.5 203.1,542.3 203.7,543.3 204.4,545.2 205.3,543.8 205.8,541.4 206.3,540.0 206.3,537.3 206.9,536.6 207.2,539.0 206.8,538.8 207.3,540.7 207.3,542.2 207.3,545.0 207.2,546.5 207.1,546.6 207.2,549.2 207.6,551.1 207.7,551.2 207.6,552.7 207.7,554.8 208.4,555.6 208.8,557.7 209.7,560.4 210.2,561.6 210.7,562.4 210.9,565.1 211.1,566.8 211.4,568.7 211.5,570.2 211.6,571.1 211.9,573.5 212.0,574.9 212.3,577.1 213.0,578.8 213.1,579.8 213.1,581.4 213.5,583.4 213.7,584.7 214.2,587.3 214.2,587.8 214.9,590.2 215.0,591.4 215.0,593.6 215.3,594.2 215.4,596.5 216.0,597.7 215.7,599.6 215.9,599.9 216.4,602.5 216.5,603.7 216.8,605.1 216.9,606.8 217.4,608.7 217.6,610.5 217.9,612.5 217.8,613.8 218.5,615.3 218.8,616.5 218.8,618.3 219.5,619.3 219.7,621.3 219.9,622.5 220.3,624.2 220.8,626.0 221.7,626.9 222.8,630.1 223.7,630.8 225.2,632.6 226.5,632.9 228.7,633.0 230.4,633.0" fill="none" stroke="#2c38c4" stroke-width="0.9" stroke-linejoin="round" opacity="1"/>
<rect x="263.6" y="530.9" width="104.69999999999999" height="102.39999999999998" fill="none" stroke="#222" stroke-width="0.7"/>
<line x1="263.6" y1="633.3" x2="261.40000000000003" y2="633.3" stroke="#222" stroke-width="0.6"/>
<line x1="263.6" y1="623.5" x2="262.40000000000003" y2="623.5" stroke="#222" stroke-width="0.6"/>
<line x1="263.6" y1="613.7" x2="261.40000000000003" y2="613.7" stroke="#222" stroke-width="0.6"/>
<line x1="263.6" y1="604.0" x2="262.40000000000003" y2="604.0" stroke="#222" stroke-width="0.6"/>
<line x1="263.6" y1="594.2" x2="261.40000000000003" y2="594.2" stroke="#222" stroke-width="0.6"/>
<line x1="263.6" y1="584.4" x2="262.40000000000003" y2="584.4" stroke="#222" stroke-width="0.6"/>
<line x1="263.6" y1="574.6" x2="261.40000000000003" y2="574.6" stroke="#222" stroke-width="0.6"/>
<line x1="263.6" y1="564.8" x2="262.40000000000003" y2="564.8" stroke="#222" stroke-width="0.6"/>
<line x1="263.6" y1="555.1" x2="261.40000000000003" y2="555.1" stroke="#222" stroke-width="0.6"/>
<line x1="263.6" y1="545.3" x2="262.40000000000003" y2="545.3" stroke="#222" stroke-width="0.6"/>
<line x1="263.6" y1="535.5" x2="261.40000000000003" y2="535.5" stroke="#222" stroke-width="0.6"/>
<line x1="263.6" y1="633.3" x2="263.6" y2="635.5" stroke="#222" stroke-width="0.6"/>
<line x1="271.5" y1="633.3" x2="271.5" y2="634.5" stroke="#222" stroke-width="0.4"/>
<line x1="276.1" y1="633.3" x2="276.1" y2="634.5" stroke="#222" stroke-width="0.4"/>
<line x1="279.4" y1="633.3" x2="279.4" y2="634.5" stroke="#222" stroke-width="0.4"/>
<line x1="281.9" y1="633.3" x2="281.9" y2="634.5" stroke="#222" stroke-width="0.4"/>
<line x1="284.0" y1="633.3" x2="284.0" y2="634.5" stroke="#222" stroke-width="0.4"/>
<line x1="285.7" y1="633.3" x2="285.7" y2="634.5" stroke="#222" stroke-width="0.4"/>
<line x1="287.2" y1="633.3" x2="287.2" y2="634.5" stroke="#222" stroke-width="0.4"/>
<line x1="288.6" y1="633.3" x2="288.6" y2="634.5" stroke="#222" stroke-width="0.4"/>
<text x="263.0" y="643.5" font-size="5.6" text-anchor="middle" fill="#111" stroke="#111" stroke-width="0.15" font-family="Liberation Sans, sans-serif">10<tspan dy="-2.3" font-size="3.9">0</tspan></text>
<line x1="289.8" y1="633.3" x2="289.8" y2="635.5" stroke="#222" stroke-width="0.6"/>
<line x1="297.7" y1="633.3" x2="297.7" y2="634.5" stroke="#222" stroke-width="0.4"/>
<line x1="302.3" y1="633.3" x2="302.3" y2="634.5" stroke="#222" stroke-width="0.4"/>
<line x1="305.5" y1="633.3" x2="305.5" y2="634.5" stroke="#222" stroke-width="0.4"/>
<line x1="308.1" y1="633.3" x2="308.1" y2="634.5" stroke="#222" stroke-width="0.4"/>
<line x1="310.1" y1="633.3" x2="310.1" y2="634.5" stroke="#222" stroke-width="0.4"/>
<line x1="311.9" y1="633.3" x2="311.9" y2="634.5" stroke="#222" stroke-width="0.4"/>
<line x1="313.4" y1="633.3" x2="313.4" y2="634.5" stroke="#222" stroke-width="0.4"/>
<line x1="314.8" y1="633.3" x2="314.8" y2="634.5" stroke="#222" stroke-width="0.4"/>
<text x="289.2" y="643.5" font-size="5.6" text-anchor="middle" fill="#111" stroke="#111" stroke-width="0.15" font-family="Liberation Sans, sans-serif">10<tspan dy="-2.3" font-size="3.9">1</tspan></text>
<line x1="316.0" y1="633.3" x2="316.0" y2="635.5" stroke="#222" stroke-width="0.6"/>
<line x1="323.8" y1="633.3" x2="323.8" y2="634.5" stroke="#222" stroke-width="0.4"/>
<line x1="328.4" y1="633.3" x2="328.4" y2="634.5" stroke="#222" stroke-width="0.4"/>
<line x1="331.7" y1="633.3" x2="331.7" y2="634.5" stroke="#222" stroke-width="0.4"/>
<line x1="334.2" y1="633.3" x2="334.2" y2="634.5" stroke="#222" stroke-width="0.4"/>
<line x1="336.3" y1="633.3" x2="336.3" y2="634.5" stroke="#222" stroke-width="0.4"/>
<line x1="338.1" y1="633.3" x2="338.1" y2="634.5" stroke="#222" stroke-width="0.4"/>
<line x1="339.6" y1="633.3" x2="339.6" y2="634.5" stroke="#222" stroke-width="0.4"/>
<line x1="340.9" y1="633.3" x2="340.9" y2="634.5" stroke="#222" stroke-width="0.4"/>
<text x="315.4" y="643.5" font-size="5.6" text-anchor="middle" fill="#111" stroke="#111" stroke-width="0.15" font-family="Liberation Sans, sans-serif">10<tspan dy="-2.3" font-size="3.9">2</tspan></text>
<line x1="342.1" y1="633.3" x2="342.1" y2="635.5" stroke="#222" stroke-width="0.6"/>
<line x1="350.0" y1="633.3" x2="350.0" y2="634.5" stroke="#222" stroke-width="0.4"/>
<line x1="354.6" y1="633.3" x2="354.6" y2="634.5" stroke="#222" stroke-width="0.4"/>
<line x1="357.9" y1="633.3" x2="357.9" y2="634.5" stroke="#222" stroke-width="0.4"/>
<line x1="360.4" y1="633.3" x2="360.4" y2="634.5" stroke="#222" stroke-width="0.4"/>
<line x1="362.5" y1="633.3" x2="362.5" y2="634.5" stroke="#222" stroke-width="0.4"/>
<line x1="364.2" y1="633.3" x2="364.2" y2="634.5" stroke="#222" stroke-width="0.4"/>
<line x1="365.8" y1="633.3" x2="365.8" y2="634.5" stroke="#222" stroke-width="0.4"/>
<line x1="367.1" y1="633.3" x2="367.1" y2="634.5" stroke="#222" stroke-width="0.4"/>
<text x="341.5" y="643.5" font-size="5.6" text-anchor="middle" fill="#111" stroke="#111" stroke-width="0.15" font-family="Liberation Sans, sans-serif">10<tspan dy="-2.3" font-size="3.9">3</tspan></text>
<line x1="368.3" y1="633.3" x2="368.3" y2="635.5" stroke="#222" stroke-width="0.6"/>
<text x="367.7" y="643.5" font-size="5.6" text-anchor="middle" fill="#111" stroke="#111" stroke-width="0.15" font-family="Liberation Sans, sans-serif">10<tspan dy="-2.3" font-size="3.9">4</tspan></text>
<text x="312.8" y="653.6" font-size="10.1" text-anchor="middle" font-weight="normal" fill="#000" font-family="Liberation Sans, sans-serif" stroke="#000" stroke-width="0.3">FITC-gp120</text>
<line x1="309" y1="545.6" x2="315.5" y2="545.6" stroke="#868686" stroke-width="0.9"/>
<text x="319.7" y="547.6" font-size="5.9" text-anchor="start" font-weight="normal" fill="#000" font-family="Liberation Sans, sans-serif" stroke="#000" stroke-width="0.18">Control</text>
<line x1="309" y1="553.8000000000001" x2="315.5" y2="553.8000000000001" stroke="#d23424" stroke-width="0.9"/>
<text x="319.7" y="555.8" font-size="5.9" text-anchor="start" font-weight="normal" fill="#000" font-family="Liberation Sans, sans-serif" stroke="#000" stroke-width="0.18">w/o RA</text>
<line x1="309" y1="562.0" x2="315.5" y2="562.0" stroke="#2c38c4" stroke-width="0.9"/>
<text x="319.7" y="564.0" font-size="5.9" text-anchor="start" font-weight="normal" fill="#000" font-family="Liberation Sans, sans-serif" stroke="#000" stroke-width="0.18">with RA</text>
<polyline points="264.2,602.9 264.2,604.4 264.3,605.2 264.3,606.2 264.5,608.2 264.5,609.0 264.6,610.6 264.6,611.9 264.7,612.5 264.7,614.0 264.7,615.2 264.6,617.0 264.8,617.9 264.9,619.1 265.0,620.3 265.0,621.8 264.9,622.5 265.0,624.1 266.1,624.8 266.9,626.0 267.6,624.6 268.5,624.1 268.9,623.0 269.1,621.2 269.5,620.4 269.8,619.2 270.0,617.4 270.4,616.4 270.8,614.7 271.0,613.6 271.4,613.0 271.7,611.3 272.0,610.1 272.3,608.7 272.4,607.3 272.7,605.9 272.9,605.0 273.3,603.5 273.6,603.1 273.8,601.3 273.9,600.0 274.2,599.1 274.4,597.6 274.6,596.7 274.8,595.4 275.0,594.3 275.2,593.0 275.4,591.7 275.8,590.4 275.9,589.0 276.2,587.5 276.2,585.9 276.3,585.5 276.6,584.0 276.6,582.8 276.7,581.1 277.0,580.6 277.2,579.1 277.2,577.5 277.5,576.1 277.7,575.0 277.7,574.1 277.9,572.8 278.1,571.3 278.2,570.2 278.3,569.3 278.6,567.8 278.7,566.7 278.8,565.9 279.0,564.5 279.1,563.0 279.2,561.9 279.4,560.9 279.4,559.9 279.7,558.5 279.6,556.9 279.8,555.8 280.1,554.6 280.0,553.1 280.2,552.2 280.4,551.0 280.5,549.5 280.6,548.1 280.9,547.0 281.1,546.3 281.2,544.2 281.4,543.5 281.7,542.4 281.6,541.1 281.9,539.5 282.3,538.7 282.6,536.9 283.1,536.0 283.2,537.5 283.4,538.1 283.6,540.0 283.7,541.1 284.0,542.0 284.2,543.3 284.4,544.3 284.3,545.6 284.5,547.4 284.5,547.9 284.8,549.6 284.9,550.2 285.0,552.1 285.1,552.9 285.2,554.4 285.4,555.2 285.4,556.8 285.5,558.4 285.5,559.5 285.5,560.8 285.7,561.4 285.6,563.2 285.7,563.8 285.8,565.2 286.0,566.2 286.1,567.8 286.1,568.8 286.3,569.7 286.2,571.1 286.4,572.6 286.5,573.8 286.4,575.1 286.4,576.5 286.6,577.9 286.8,578.4 286.7,579.8 286.8,580.9 286.9,582.1 286.9,583.1 287.1,584.4 287.1,585.5 287.1,586.9 287.3,588.4 287.2,589.2 287.5,590.4 287.3,591.7 287.5,593.2 287.5,594.8 287.6,595.4 287.7,596.9 287.9,598.0 288.0,599.4 287.9,600.9 288.0,602.1 288.1,602.9 288.3,603.8 288.2,605.0 288.3,606.4 288.6,608.3 288.6,609.0 288.8,610.7 288.8,611.7 288.9,612.5 289.1,614.2 289.3,615.6 289.2,616.9 289.5,617.4 289.4,619.1 289.6,620.2 289.8,621.6 290.1,622.4 290.4,623.9 290.6,624.7 290.8,626.4 291.1,627.6 291.3,628.2 291.5,629.8 292.6,631.4 293.5,632.7 295.4,633.0" fill="none" stroke="#a8a8a8" stroke-width="0.9" stroke-linejoin="round" opacity="1"/>
<polyline points="264.6,633.0 266.0,633.0 267.6,633.0 268.9,631.9 270.4,631.8 271.3,631.5 272.4,630.2 273.2,630.0 274.2,628.9 274.9,628.1 275.7,627.1 276.3,625.7 277.1,625.0 277.7,623.6 278.3,622.2 279.0,621.3 279.6,620.2 279.9,618.6 280.2,618.2 280.5,616.5 280.7,615.4 280.9,614.2 281.3,613.2 281.8,611.7 281.9,610.6 282.2,609.6 282.3,608.2 282.6,607.0 282.7,605.2 282.7,604.0 283.0,603.2 283.2,602.0 283.2,600.4 283.5,599.1 283.9,597.4 284.3,596.7 284.8,595.2 284.8,593.6 285.1,592.4 285.1,590.9 285.3,589.9 285.2,589.3 285.6,587.2 285.5,586.7 285.7,584.8 285.8,583.5 285.9,582.4 285.9,580.7 286.2,579.8 286.2,578.3 286.5,577.4 286.6,575.8 286.6,574.9 286.7,573.4 286.9,572.5 287.0,570.5 287.1,569.8 287.2,568.5 287.5,567.3 287.6,565.4 287.7,564.5 287.9,562.9 288.1,562.2 288.1,560.4 288.4,559.5 288.5,557.7 288.6,556.8 288.8,555.6 289.0,554.0 289.2,552.9 289.6,551.7 289.9,549.9 290.2,549.1 291.2,551.0 291.2,549.5 291.4,548.6 291.6,547.4 291.5,545.7 291.6,544.9 291.7,543.2 291.9,542.5 292.0,541.2 292.0,540.0 292.2,538.3 292.2,536.9 292.3,536.0 292.4,536.9 292.5,538.6 292.9,540.3 292.9,541.2 293.1,542.3 293.3,543.9 293.5,545.2 294.4,544.3 294.6,545.7 294.6,547.0 294.8,547.6 294.9,549.3 295.0,550.7 295.2,551.6 295.4,553.2 295.5,554.2 295.8,555.9 295.8,556.8 295.8,558.2 296.1,559.3 296.0,560.4 296.4,562.3 296.4,562.8 296.5,564.6 296.7,565.4 296.8,567.3 296.9,567.9 297.2,569.2 297.1,570.5 297.3,572.2 297.3,573.7 297.4,574.4 297.7,575.7 297.7,577.6 298.0,578.3 298.0,579.8 298.1,580.8 298.2,582.8 298.5,583.5 298.7,585.3 298.8,586.2 298.8,587.5 298.9,588.9 299.2,590.1 299.2,591.6 299.6,592.4 299.7,593.6 299.7,595.1 300.0,596.3 300.0,598.2 300.2,599.4 300.5,600.1 300.5,601.5 300.8,602.9 301.0,604.1 301.1,605.7 301.4,606.2 301.6,607.9 301.6,609.4 301.9,610.6 302.0,611.3 302.1,612.6 302.2,613.8 302.6,614.9 302.7,616.4 303.0,617.5 303.2,619.1 303.5,619.8 303.8,621.5 304.0,622.6 304.1,623.9 304.3,624.9 304.6,626.0 305.1,627.7 305.7,628.7 306.3,630.3 306.9,631.4 308.5,632.7 309.8,633.0" fill="none" stroke="#d23424" stroke-width="0.9" stroke-linejoin="round" opacity="1"/>
<polyline points="274.2,633.0 275.6,633.0 277.2,633.0 278.6,633.0 280.0,632.7 281.1,631.6 281.9,631.3 283.0,630.4 283.8,629.8 284.4,628.8 284.8,627.0 285.2,625.8 285.6,624.6 286.2,623.7 286.7,622.2 286.9,620.6 287.1,620.0 287.4,618.5 287.8,617.6 288.0,616.0 288.2,615.3 288.5,614.1 288.7,612.5 288.9,611.1 288.9,610.0 289.2,608.8 289.3,607.4 289.6,606.1 289.5,605.0 289.7,603.4 290.0,602.7 290.2,600.7 290.3,599.3 290.5,598.4 290.6,597.2 290.6,595.9 290.9,594.8 290.9,593.8 291.1,592.1 291.1,591.4 291.4,590.3 291.4,588.7 291.7,587.7 291.6,586.1 291.8,585.0 291.9,583.7 292.1,582.7 292.3,581.2 292.3,580.8 292.3,579.4 292.5,577.9 292.6,577.1 292.8,575.8 293.0,574.2 292.9,572.9 293.2,571.9 293.3,571.1 293.5,569.5 293.4,568.4 293.7,567.2 293.7,565.8 293.8,564.5 293.9,563.4 294.0,562.3 294.1,560.7 294.4,560.1 294.4,558.7 294.5,557.2 294.7,556.1 295.0,554.9 295.1,553.3 295.3,552.5 295.5,551.2 295.7,549.5 295.7,548.8 296.0,547.2 296.4,546.3 296.7,544.2 297.3,543.3 297.6,542.4 297.7,540.5 298.1,539.8 298.3,538.3 298.3,537.0 298.7,536.0 298.8,537.0 298.9,538.7 299.1,539.7 299.2,540.9 299.5,542.4 299.6,543.6 299.8,545.2 300.0,546.4 300.1,547.6 300.0,548.8 300.0,550.1 300.1,550.9 300.4,552.6 300.4,553.6 300.4,554.8 300.5,556.2 300.7,556.9 300.6,558.5 300.9,560.0 300.9,560.7 301.0,562.4 301.0,563.2 301.2,564.5 301.3,565.8 301.4,567.2 301.3,567.9 301.5,569.8 301.6,570.8 301.7,571.8 301.7,573.3 301.7,574.2 301.9,576.1 301.9,576.5 302.0,578.2 302.2,579.3 302.2,580.6 302.3,582.3 302.3,583.2 302.4,584.4 302.4,586.0 302.5,586.8 302.7,588.1 302.7,589.5 302.7,590.7 302.9,591.7 303.0,592.8 302.9,593.8 303.2,595.1 303.1,596.4 303.2,597.5 303.4,599.3 303.6,600.6 303.6,601.5 303.7,602.3 303.6,603.8 303.9,605.3 303.8,606.2 304.0,607.8 304.0,608.7 304.3,610.1 304.2,610.8 304.4,612.2 304.7,614.0 304.7,614.8 305.0,616.1 305.2,617.8 305.4,618.8 305.4,620.2 305.6,621.5 305.8,622.6 306.3,624.5 306.3,625.5 306.6,626.4 306.9,627.9 307.6,629.2 308.2,630.3 308.8,632.2 309.9,632.9 311.2,633.0" fill="none" stroke="#2c38c4" stroke-width="0.9" stroke-linejoin="round" opacity="1"/>
</g>
</svg>
</body></html>
